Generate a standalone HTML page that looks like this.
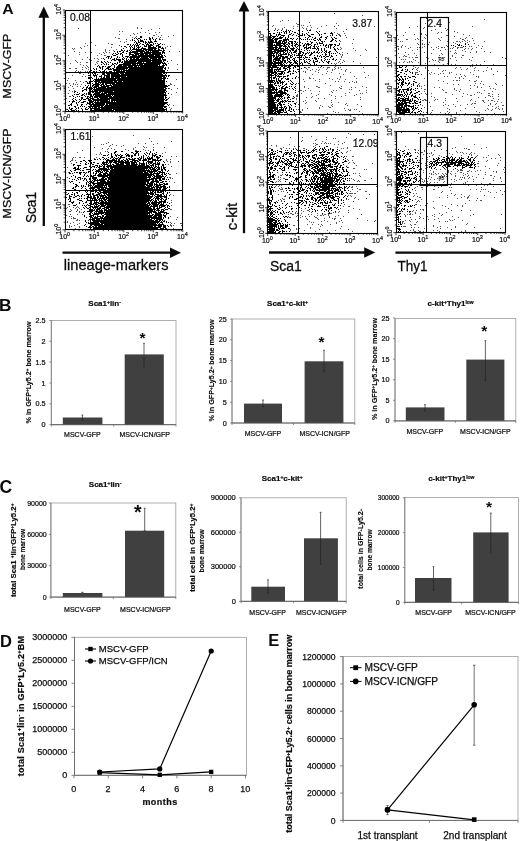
<!DOCTYPE html>
<html lang="en"><head><meta charset="utf-8"><title>Figure</title>
<style>
html,body{margin:0;padding:0;background:#fff}
svg{display:block}
text{font-family:"Liberation Sans",sans-serif}
</style></head>
<body>
<svg width="520" height="841" viewBox="0 0 520 841">
<rect x="0" y="0" width="520" height="841" fill="#fff"/>
<g id="panelA">
<text x="2.3" y="13.7" font-size="14.4" text-anchor="start" font-weight="bold" fill="#0a0a0a" textLength="11.4" lengthAdjust="spacingAndGlyphs">A</text>
<line x1="43.8" y1="16.7" x2="43.8" y2="226" stroke="#0a0a0a" stroke-width="2.3"/>
<polygon points="43.8,6.4 38.4,17.7 49.2,17.7" fill="#0a0a0a"/>
<text x="11" y="66.1" font-size="11.8" text-anchor="middle" font-weight="normal" fill="#0a0a0a" transform="rotate(-90 11 66.1)" textLength="64.6" lengthAdjust="spacingAndGlyphs" stroke="#111" stroke-width="0.3">MSCV-GFP</text>
<text x="11" y="173.4" font-size="11.8" text-anchor="middle" font-weight="normal" fill="#0a0a0a" transform="rotate(-90 11 173.4)" textLength="90" lengthAdjust="spacingAndGlyphs" stroke="#111" stroke-width="0.3">MSCV-ICN/GFP</text>
<text x="36.3" y="207.5" font-size="15.2" text-anchor="middle" font-weight="normal" fill="#0a0a0a" transform="rotate(-90 36.3 207.5)" textLength="31" lengthAdjust="spacingAndGlyphs" stroke="#111" stroke-width="0.3">Sca1</text>
<line x1="62.5" y1="252.7" x2="171" y2="252.7" stroke="#0a0a0a" stroke-width="2.3"/>
<polygon points="181,252.7 170,247.4 170,258" fill="#0a0a0a"/>
<text x="63.8" y="270" font-size="14.6" text-anchor="start" font-weight="normal" fill="#0a0a0a" stroke="#111" stroke-width="0.3">lineage-markers</text>
<path d="M65 24h1M137 27h1M78 28h1M137 28h1M141 28h1M159 28h1M151 29h1M148 30h1M119 31h1M122 31h1M140 32h1M145 32h1M155 32h1M159 32h1M133 33h1M137 33h1M149 33h1M119 34h1M134 34h1M156 34h1M130 35h1M153 35h2M161 35h1M173 35h1M136 36h1M158 36h1M168 36h1M115 37h1M132 37h1M135 37h1M160 37h1M90 38h1M118 38h2M159 38h1M126 39h1M160 39h1M162 39h1M130 40h1M120 41h1M126 41h1M91 42h1M124 42h1M85 43h1M108 43h1M111 44h2M164 44h1M87 45h1M95 45h1M119 45h1M84 46h1M167 46h1M170 46h1M80 47h1M111 47h1M165 47h1M72 48h1M74 48h1M81 48h1M165 48h1M73 49h1M105 49h1M116 49h1M105 50h1M109 50h1M113 50h1M74 51h1M105 51h1M169 51h1M179 51h1M79 52h1M85 52h1M91 52h1M103 52h1M106 52h1M109 52h1M99 53h1M104 53h1M79 54h1M101 54h1M68 55h1M97 55h1M104 55h2M87 57h1M94 58h1M97 58h1M101 58h1M82 59h1M89 59h2M98 59h1M75 60h1M91 60h1M171 60h1M76 61h1M97 61h2M77 62h1M80 62h1M86 62h2M96 62h1M65 63h1M70 63h1M97 63h1M168 63h1M80 64h1M95 64h1M177 64h1M83 65h1M86 65h1M87 66h1M82 67h1M85 67h1M88 67h1M168 67h1M69 68h2M75 68h2M86 68h1M168 68h1M82 69h1M88 69h1M177 69h1M76 70h1M75 71h1M78 71h1M80 71h1M85 71h1M87 71h1M86 72h1M168 72h1M79 73h2M83 74h1M72 75h1M169 75h1M82 76h1M85 76h1M68 78h1M176 79h1M67 80h1M75 80h1M80 81h1M85 81h1M76 82h1M83 82h1M66 83h1M69 83h1M73 83h1M170 83h1M73 84h1M75 84h1M77 84h1M81 84h1M170 84h2M182 84h1M70 85h1M169 85h1M174 85h1M72 86h1M77 86h1M80 86h1M68 87h1M73 88h1M169 88h1M177 88h1M171 89h1M69 90h1M74 90h1M72 91h1M74 91h1M176 92h1M68 93h1M171 94h1M69 96h2M169 97h1M66 98h1M169 104h1M173 105h1M169 107h1M171 108h1M66 109h1M170 109h1M170 110h1" transform="translate(0 0.5)" stroke="#555" stroke-width="1" fill="none" shape-rendering="crispEdges"/>
<path d="M140 36h2M140 37h2M149 37h1M152 37h1M134 38h1M136 38h1M138 38h2M149 38h2M152 38h1M156 38h1M132 39h1M137 39h1M140 39h1M144 39h1M146 39h1M149 39h2M153 39h1M155 39h1M159 39h1M132 40h1M134 40h1M138 40h1M140 40h3M150 40h1M155 40h1M135 41h1M138 41h1M140 41h4M145 41h1M148 41h1M150 41h2M154 41h3M134 42h1M136 42h1M138 42h2M143 42h1M145 42h2M148 42h5M136 43h2M140 43h1M145 43h1M147 43h1M149 43h1M153 43h1M155 43h1M157 43h1M160 43h1M127 44h2M130 44h1M133 44h1M135 44h1M137 44h1M139 44h1M142 44h2M146 44h3M150 44h2M153 44h1M158 44h2M162 44h1M130 45h1M132 45h1M134 45h1M136 45h3M144 45h1M146 45h1M148 45h5M156 45h3M121 46h1M124 46h2M129 46h1M131 46h1M134 46h1M136 46h1M138 46h1M140 46h1M144 46h3M148 46h3M153 46h1M156 46h1M158 46h3M126 47h1M130 47h1M132 47h1M134 47h1M137 47h3M142 47h1M148 47h8M158 47h3M162 47h1M123 48h1M130 48h1M133 48h2M136 48h1M138 48h1M141 48h5M148 48h9M158 48h1M161 48h3M121 49h1M130 49h1M132 49h10M143 49h10M154 49h2M158 49h2M163 49h1M121 50h2M124 50h1M127 50h1M129 50h1M131 50h1M136 50h8M145 50h2M148 50h14M163 50h2M114 51h1M117 51h1M119 51h2M123 51h1M126 51h2M130 51h1M132 51h13M146 51h3M150 51h1M152 51h7M162 51h2M117 52h1M122 52h2M129 52h9M140 52h3M144 52h17M162 52h3M113 53h1M115 53h1M118 53h1M120 53h2M126 53h1M129 53h2M134 53h17M152 53h9M162 53h1M164 53h1M112 54h1M116 54h2M120 54h1M122 54h1M129 54h5M135 54h4M140 54h4M145 54h3M149 54h13M113 55h3M122 55h1M129 55h1M132 55h5M138 55h16M155 55h5M161 55h2M164 55h1M107 56h3M111 56h1M117 56h1M122 56h1M125 56h4M130 56h33M165 56h1M106 57h1M108 57h1M111 57h1M117 57h1M119 57h1M123 57h1M127 57h1M129 57h11M141 57h7M149 57h15M103 58h1M108 58h1M110 58h1M114 58h1M116 58h1M122 58h1M124 58h1M126 58h1M130 58h2M133 58h2M136 58h3M140 58h9M150 58h7M158 58h3M162 58h1M104 59h1M112 59h3M116 59h5M122 59h2M126 59h1M128 59h1M130 59h21M152 59h9M162 59h4M111 60h1M114 60h2M118 60h3M124 60h1M126 60h2M129 60h33M163 60h3M101 61h1M104 61h1M107 61h1M119 61h2M122 61h1M124 61h13M138 61h13M152 61h10M163 61h1M167 61h1M101 62h2M105 62h1M108 62h1M110 62h1M117 62h1M119 62h1M121 62h2M124 62h12M137 62h5M143 62h1M146 62h17M164 62h1M103 63h1M106 63h1M112 63h1M114 63h2M117 63h1M123 63h38M162 63h4M101 64h1M104 64h1M106 64h1M108 64h1M112 64h2M116 64h1M119 64h12M132 64h4M137 64h1M139 64h4M144 64h16M163 64h1M165 64h2M98 65h1M111 65h1M114 65h1M118 65h4M123 65h35M159 65h1M162 65h3M166 65h1M97 66h1M99 66h1M102 66h2M105 66h1M108 66h3M114 66h1M117 66h10M128 66h5M134 66h3M138 66h1M140 66h24M99 67h2M102 67h1M107 67h3M114 67h1M116 67h48M165 67h1M93 68h1M96 68h1M100 68h1M102 68h1M106 68h3M110 68h1M112 68h2M116 68h12M129 68h34M164 68h2M94 69h1M96 69h1M102 69h1M105 69h1M108 69h4M113 69h12M126 69h1M128 69h35M165 69h1M91 70h1M99 70h1M104 70h1M113 70h7M121 70h1M123 70h42M167 70h1M89 71h1M93 71h2M96 71h1M100 71h1M102 71h3M106 71h1M109 71h3M114 71h1M116 71h9M126 71h39M89 72h1M94 72h1M98 72h1M102 72h1M107 72h1M109 72h57M88 73h1M92 73h1M94 73h2M102 73h3M106 73h13M120 73h4M125 73h37M163 73h2M166 73h1M90 74h1M93 74h1M95 74h1M97 74h1M102 74h3M107 74h3M111 74h9M121 74h42M165 74h1M88 75h2M93 75h4M101 75h1M104 75h6M111 75h56M168 75h1M94 76h1M96 76h1M99 76h3M104 76h1M106 76h4M111 76h15M127 76h38M166 76h1M168 76h1M88 77h2M91 77h1M96 77h1M101 77h1M103 77h2M106 77h4M111 77h3M115 77h5M121 77h41M163 77h3M88 78h2M92 78h1M96 78h1M98 78h1M100 78h66M167 78h1M90 79h1M94 79h22M117 79h45M163 79h2M93 80h1M95 80h70M86 81h1M89 81h1M91 81h2M94 81h6M101 81h12M114 81h3M118 81h4M123 81h42M166 81h1M87 82h1M89 82h2M95 82h2M98 82h67M87 83h4M92 83h1M95 83h4M100 83h1M102 83h2M105 83h10M116 83h49M93 84h7M101 84h3M105 84h2M110 84h1M112 84h53M85 85h1M88 85h1M90 85h1M92 85h2M95 85h4M100 85h2M103 85h2M106 85h6M113 85h54M168 85h1M87 86h1M92 86h1M94 86h5M101 86h8M111 86h57M83 87h1M86 87h2M89 87h3M93 87h4M98 87h8M107 87h59M82 88h1M86 88h1M88 88h2M91 88h2M94 88h1M96 88h68M165 88h2M168 88h1M84 89h3M89 89h1M91 89h1M93 89h73M82 90h2M86 90h1M89 90h2M92 90h1M94 90h72M75 91h1M82 91h1M89 91h1M91 91h7M99 91h14M114 91h51M166 91h1M74 92h1M77 92h1M88 92h2M92 92h2M95 92h6M102 92h1M104 92h62M79 93h1M84 93h1M86 93h1M88 93h3M94 93h6M101 93h6M108 93h56M165 93h1M168 93h1M74 94h1M76 94h3M82 94h2M86 94h1M88 94h2M91 94h1M93 94h12M106 94h60M72 95h1M81 95h2M84 95h1M90 95h2M93 95h1M95 95h16M112 95h1M114 95h53M73 96h1M77 96h1M79 96h1M85 96h1M87 96h2M90 96h3M94 96h18M113 96h51M165 96h1M75 97h1M81 97h2M87 97h1M89 97h2M92 97h1M94 97h4M99 97h9M109 97h55M165 97h2M73 98h1M81 98h2M86 98h3M91 98h3M97 98h2M100 98h64M165 98h1M168 98h1M72 99h1M75 99h1M79 99h1M81 99h1M83 99h3M88 99h3M92 99h18M111 99h54M166 99h2M73 100h1M76 100h1M80 100h1M88 100h2M91 100h1M93 100h15M109 100h1M111 100h53M165 100h2M69 101h1M72 101h3M79 101h1M83 101h3M89 101h5M95 101h1M97 101h2M100 101h10M111 101h2M114 101h1M116 101h48M72 102h1M76 102h1M78 102h1M81 102h3M87 102h1M89 102h4M94 102h74M71 103h1M76 103h1M87 103h4M92 103h2M95 103h10M106 103h61M70 104h2M77 104h1M81 104h2M86 104h1M89 104h16M106 104h2M109 104h56M167 104h1M68 105h2M71 105h1M77 105h1M81 105h1M90 105h2M93 105h11M105 105h59M168 105h1M74 106h2M80 106h1M82 106h1M84 106h1M88 106h12M101 106h2M104 106h63M69 107h1M75 107h1M78 107h1M86 107h1M89 107h1M92 107h1M94 107h3M98 107h65M164 107h2M69 108h1M71 108h2M76 108h1M78 108h1M81 108h1M85 108h1M88 108h1M90 108h10M101 108h63M166 108h1M67 109h1M70 109h2M75 109h1M82 109h1M85 109h3M90 109h2M94 109h18M113 109h54M68 110h1M71 110h4M76 110h1M78 110h1M82 110h1M91 110h23M115 110h50M166 110h1M71 111h3M77 111h1M81 111h2M84 111h1M86 111h1M88 111h1M90 111h1M93 111h71M165 111h1M167 111h1" transform="translate(0 0.5)" stroke="#000" stroke-width="1" fill="none" shape-rendering="crispEdges"/>
<rect x="65.5" y="10.5" width="117" height="101" fill="none" stroke="#000" stroke-width="1.1"/>
<line x1="90.5" y1="10" x2="90.5" y2="111.4" stroke="#000" stroke-width="1"/>
<line x1="65" y1="72.5" x2="182.7" y2="72.5" stroke="#000" stroke-width="1"/>
<path d="M65.0 111.4v2.6M65.0 111.4h-2.6M73.9 111.4v1.4M65.0 103.8h-1.4M79.0 111.4v1.4M65.0 99.3h-1.4M82.7 111.4v1.4M65.0 96.1h-1.4M85.6 111.4v1.4M65.0 93.7h-1.4M87.9 111.4v1.4M65.0 91.7h-1.4M89.9 111.4v1.4M65.0 90.0h-1.4M91.6 111.4v1.4M65.0 88.5h-1.4M93.1 111.4v1.4M65.0 87.2h-1.4M94.4 111.4v2.6M65.0 86.1h-2.6M103.3 111.4v1.4M65.0 78.4h-1.4M108.5 111.4v1.4M65.0 74.0h-1.4M112.1 111.4v1.4M65.0 70.8h-1.4M115.0 111.4v1.4M65.0 68.3h-1.4M117.3 111.4v1.4M65.0 66.3h-1.4M119.3 111.4v1.4M65.0 64.6h-1.4M121.0 111.4v1.4M65.0 63.2h-1.4M122.5 111.4v1.4M65.0 61.9h-1.4M123.8 111.4v2.6M65.0 60.7h-2.6M132.7 111.4v1.4M65.0 53.1h-1.4M137.9 111.4v1.4M65.0 48.6h-1.4M141.6 111.4v1.4M65.0 45.4h-1.4M144.4 111.4v1.4M65.0 43.0h-1.4M146.7 111.4v1.4M65.0 41.0h-1.4M148.7 111.4v1.4M65.0 39.3h-1.4M150.4 111.4v1.4M65.0 37.8h-1.4M151.9 111.4v1.4M65.0 36.5h-1.4M153.3 111.4v2.6M65.0 35.3h-2.6M162.1 111.4v1.4M65.0 27.7h-1.4M167.3 111.4v1.4M65.0 23.3h-1.4M171.0 111.4v1.4M65.0 20.1h-1.4M173.8 111.4v1.4M65.0 17.6h-1.4M176.2 111.4v1.4M65.0 15.6h-1.4M178.1 111.4v1.4M65.0 13.9h-1.4M179.8 111.4v1.4M65.0 12.5h-1.4M181.4 111.4v1.4M65.0 11.2h-1.4M182.7 111.4v2.2M65.0 10.0h-2.2" stroke="#000" stroke-width="0.75" fill="none"/>
<text x="64.7" y="120.6" font-size="7" text-anchor="middle" font-weight="normal" fill="#0a0a0a" stroke="#111" stroke-width="0.2">10<tspan dy="-0.5em" font-size="78%">0</tspan><tspan dy="0.39em" font-size="100%">&#8203;</tspan></text>
<text x="60.7" y="110.7" font-size="7" text-anchor="middle" font-weight="normal" fill="#0a0a0a" transform="rotate(-90 60.7 110.7)" stroke="#111" stroke-width="0.2">10<tspan dy="-0.5em" font-size="78%">0</tspan><tspan dy="0.39em" font-size="100%">&#8203;</tspan></text>
<text x="94.125" y="120.6" font-size="7" text-anchor="middle" font-weight="normal" fill="#0a0a0a" stroke="#111" stroke-width="0.2">10<tspan dy="-0.5em" font-size="78%">1</tspan><tspan dy="0.39em" font-size="100%">&#8203;</tspan></text>
<text x="60.7" y="85.35" font-size="7" text-anchor="middle" font-weight="normal" fill="#0a0a0a" transform="rotate(-90 60.7 85.35)" stroke="#111" stroke-width="0.2">10<tspan dy="-0.5em" font-size="78%">1</tspan><tspan dy="0.39em" font-size="100%">&#8203;</tspan></text>
<text x="123.55" y="120.6" font-size="7" text-anchor="middle" font-weight="normal" fill="#0a0a0a" stroke="#111" stroke-width="0.2">10<tspan dy="-0.5em" font-size="78%">2</tspan><tspan dy="0.39em" font-size="100%">&#8203;</tspan></text>
<text x="60.7" y="60" font-size="7" text-anchor="middle" font-weight="normal" fill="#0a0a0a" transform="rotate(-90 60.7 60)" stroke="#111" stroke-width="0.2">10<tspan dy="-0.5em" font-size="78%">2</tspan><tspan dy="0.39em" font-size="100%">&#8203;</tspan></text>
<text x="152.975" y="120.6" font-size="7" text-anchor="middle" font-weight="normal" fill="#0a0a0a" stroke="#111" stroke-width="0.2">10<tspan dy="-0.5em" font-size="78%">3</tspan><tspan dy="0.39em" font-size="100%">&#8203;</tspan></text>
<text x="60.7" y="34.65" font-size="7" text-anchor="middle" font-weight="normal" fill="#0a0a0a" transform="rotate(-90 60.7 34.65)" stroke="#111" stroke-width="0.2">10<tspan dy="-0.5em" font-size="78%">3</tspan><tspan dy="0.39em" font-size="100%">&#8203;</tspan></text>
<text x="182.4" y="120.6" font-size="7" text-anchor="middle" font-weight="normal" fill="#0a0a0a" stroke="#111" stroke-width="0.2">10<tspan dy="-0.5em" font-size="78%">4</tspan><tspan dy="0.39em" font-size="100%">&#8203;</tspan></text>
<text x="60.7" y="9.3" font-size="7" text-anchor="middle" font-weight="normal" fill="#0a0a0a" transform="rotate(-90 60.7 9.3)" stroke="#111" stroke-width="0.2">10<tspan dy="-0.5em" font-size="78%">4</tspan><tspan dy="0.39em" font-size="100%">&#8203;</tspan></text>
<text x="70" y="21" font-size="10.3" text-anchor="start" font-weight="normal" fill="#0a0a0a" stroke="#111" stroke-width="0.2">0.08</text>
<path d="M79 129h1M77 133h1M133 135h1M92 136h1M149 138h1M151 141h1M171 141h1M108 142h1M106 143h1M138 143h1M145 143h1M157 143h1M101 144h1M103 144h1M112 144h1M153 144h1M110 145h1M116 145h1M123 145h1M109 146h1M121 146h1M143 146h1M94 147h1M135 147h1M144 147h1M146 147h1M153 147h1M164 147h1M102 148h1M108 148h1M111 148h1M133 148h1M107 149h1M114 149h1M125 149h1M133 149h1M143 149h1M153 149h1M82 150h1M128 150h1M135 150h2M145 150h1M148 150h1M153 150h1M105 151h1M107 151h1M77 152h1M100 152h1M165 152h1M100 153h1M162 153h1M96 154h1M99 154h1M101 154h1M171 156h1M176 156h1M73 157h1M75 157h1M79 157h2M84 157h1M96 157h1M72 158h1M94 158h1M72 159h1M166 159h1M170 159h1M71 160h2M75 160h1M166 160h1M70 161h1M167 161h1M170 161h1M178 161h1M170 162h1M71 163h1M168 164h1M65 166h1M171 166h1M67 167h1M68 172h1M176 173h1M169 174h2M67 177h1M169 177h2M65 178h1M170 178h1M172 178h1M169 181h1M65 182h1M174 182h1M65 185h1M67 190h1M182 190h1M66 192h1M66 194h1M170 194h1M173 195h1M65 196h1M65 198h1M171 200h1M171 202h1M182 203h1M68 204h2M65 205h1M171 205h1M69 206h1M77 206h1M67 207h1M73 207h1M76 207h1M78 207h1M66 208h1M75 208h1M79 208h1M65 209h1M70 209h1M77 209h1M81 209h1M170 209h2M71 210h1M77 210h1M69 211h2M76 211h1M79 211h1M79 212h1M81 212h1M70 214h1M77 214h1M82 214h1M65 215h2M69 216h1M71 216h1M170 216h1M73 217h1M177 217h1M71 218h1M73 218h3M77 219h1M176 219h1M76 220h2M79 220h1M67 221h1M67 222h1M73 222h1M170 222h1M70 223h1M79 223h1M171 223h1M174 223h1M180 223h2M77 224h1M170 224h1M69 225h1M74 225h1M170 225h2M173 225h1M181 225h1M69 226h1M71 226h1M79 226h1M171 226h1M69 227h1M79 227h1M75 228h1M173 228h1M70 229h1" transform="translate(0 0.5)" stroke="#555" stroke-width="1" fill="none" shape-rendering="crispEdges"/>
<path d="M115 151h2M121 151h2M135 151h4M140 151h1M150 151h1M108 152h1M114 152h2M131 152h2M136 152h2M146 152h1M150 152h1M156 152h1M111 153h1M114 153h1M126 153h1M133 153h1M135 153h2M138 153h1M144 153h1M147 153h1M149 153h1M152 153h1M154 153h1M108 154h1M111 154h1M115 154h1M117 154h1M120 154h1M125 154h1M127 154h2M134 154h2M138 154h1M145 154h1M149 154h1M152 154h1M155 154h2M103 155h3M107 155h1M111 155h1M115 155h2M118 155h2M121 155h2M126 155h4M131 155h2M134 155h2M138 155h1M143 155h1M146 155h1M152 155h4M159 155h2M111 156h2M116 156h1M120 156h2M126 156h1M128 156h2M131 156h2M141 156h1M143 156h1M148 156h1M152 156h1M154 156h1M156 156h2M160 156h1M162 156h1M102 157h2M108 157h1M111 157h2M114 157h1M118 157h1M120 157h5M131 157h1M139 157h1M141 157h1M143 157h1M147 157h1M149 157h1M151 157h2M156 157h4M99 158h1M104 158h1M106 158h1M110 158h1M113 158h1M115 158h3M119 158h2M126 158h1M128 158h2M132 158h1M134 158h2M137 158h2M140 158h2M143 158h1M145 158h1M147 158h6M157 158h2M90 159h1M94 159h2M97 159h1M100 159h1M103 159h1M105 159h1M107 159h2M112 159h3M116 159h1M118 159h2M123 159h1M126 159h2M129 159h6M138 159h3M143 159h4M148 159h3M152 159h4M157 159h1M160 159h2M83 160h2M88 160h2M91 160h1M106 160h11M118 160h2M121 160h2M124 160h2M127 160h2M132 160h6M139 160h2M142 160h5M148 160h1M152 160h9M80 161h2M85 161h1M89 161h1M103 161h1M106 161h2M109 161h4M114 161h10M125 161h4M130 161h3M134 161h2M137 161h2M143 161h1M147 161h6M155 161h1M158 161h1M163 161h1M76 162h1M86 162h1M91 162h1M93 162h2M102 162h6M109 162h3M113 162h4M118 162h12M131 162h6M139 162h1M143 162h1M146 162h1M148 162h5M155 162h1M157 162h1M159 162h1M164 162h1M80 163h1M85 163h1M88 163h1M91 163h1M97 163h2M102 163h3M106 163h1M108 163h1M110 163h1M115 163h4M120 163h4M125 163h5M131 163h4M136 163h1M139 163h6M146 163h1M148 163h1M150 163h2M153 163h3M157 163h3M73 164h2M85 164h2M90 164h1M92 164h2M101 164h1M103 164h5M110 164h1M112 164h2M116 164h8M126 164h4M131 164h7M139 164h1M141 164h4M146 164h1M149 164h1M152 164h2M155 164h5M162 164h2M165 164h1M73 165h1M77 165h4M90 165h1M95 165h3M99 165h1M102 165h1M104 165h1M107 165h5M113 165h24M138 165h7M146 165h3M150 165h4M155 165h1M158 165h1M162 165h2M78 166h1M89 166h2M92 166h3M97 166h1M99 166h3M103 166h2M106 166h44M151 166h1M153 166h1M155 166h2M158 166h1M161 166h1M163 166h1M74 167h2M78 167h1M84 167h3M91 167h1M94 167h1M96 167h1M98 167h2M103 167h2M107 167h2M110 167h43M154 167h2M157 167h3M161 167h1M163 167h3M73 168h3M77 168h2M80 168h1M83 168h1M99 168h8M108 168h1M110 168h3M114 168h34M149 168h2M152 168h3M156 168h1M158 168h2M161 168h1M163 168h2M75 169h5M86 169h4M93 169h1M95 169h1M98 169h12M111 169h34M146 169h1M148 169h1M150 169h6M157 169h3M161 169h2M164 169h2M70 170h1M74 170h2M80 170h1M82 170h2M92 170h1M96 170h4M101 170h1M103 170h5M110 170h40M151 170h1M153 170h5M161 170h2M165 170h1M168 170h1M71 171h1M88 171h3M95 171h6M102 171h1M104 171h1M106 171h3M110 171h36M147 171h10M158 171h3M162 171h1M167 171h1M69 172h1M74 172h1M76 172h2M79 172h3M83 172h2M86 172h1M88 172h1M93 172h1M96 172h1M98 172h1M100 172h3M105 172h2M109 172h34M144 172h4M149 172h4M154 172h1M157 172h1M159 172h6M69 173h2M72 173h1M79 173h2M85 173h1M93 173h1M95 173h2M99 173h2M103 173h5M109 173h40M150 173h2M153 173h7M162 173h1M164 173h1M166 173h1M168 173h1M80 174h1M84 174h1M95 174h1M98 174h4M103 174h3M107 174h47M156 174h3M161 174h2M164 174h2M73 175h1M84 175h1M87 175h1M90 175h2M93 175h3M97 175h55M153 175h2M156 175h5M162 175h1M166 175h1M71 176h1M75 176h1M83 176h1M86 176h1M88 176h1M91 176h3M98 176h10M109 176h38M148 176h3M152 176h1M154 176h10M165 176h1M75 177h1M78 177h3M90 177h1M92 177h5M102 177h3M107 177h44M153 177h2M156 177h6M164 177h1M167 177h1M69 178h1M77 178h1M80 178h1M82 178h1M84 178h2M89 178h2M92 178h5M101 178h3M105 178h2M108 178h39M149 178h1M151 178h10M162 178h3M72 179h1M74 179h1M78 179h1M80 179h1M84 179h1M86 179h1M89 179h1M93 179h3M97 179h1M99 179h8M108 179h46M155 179h2M159 179h2M162 179h3M166 179h1M168 179h1M76 180h1M83 180h1M86 180h1M90 180h1M92 180h1M94 180h11M107 180h2M110 180h40M152 180h2M155 180h3M159 180h3M69 181h1M71 181h2M87 181h1M89 181h1M91 181h1M93 181h2M97 181h1M100 181h6M107 181h42M151 181h8M162 181h2M165 181h2M70 182h1M79 182h1M86 182h1M88 182h1M91 182h3M97 182h49M147 182h2M150 182h4M156 182h3M160 182h3M73 183h1M86 183h1M89 183h2M92 183h54M147 183h6M154 183h1M156 183h1M159 183h1M163 183h2M166 183h2M75 184h2M86 184h1M88 184h1M93 184h2M97 184h7M105 184h43M149 184h4M154 184h4M159 184h4M164 184h4M76 185h2M81 185h1M83 185h1M88 185h2M91 185h1M93 185h1M95 185h12M108 185h37M146 185h7M154 185h1M156 185h5M163 185h2M75 186h2M78 186h1M81 186h1M83 186h1M85 186h1M88 186h1M92 186h1M94 186h9M104 186h1M106 186h1M108 186h38M147 186h5M153 186h1M155 186h4M160 186h6M169 186h1M73 187h1M75 187h1M82 187h1M90 187h17M109 187h41M151 187h4M156 187h6M163 187h3M167 187h1M169 187h1M72 188h2M81 188h1M85 188h1M89 188h6M97 188h3M101 188h3M105 188h48M154 188h1M156 188h2M159 188h2M163 188h4M74 189h2M86 189h1M92 189h2M95 189h2M98 189h8M107 189h54M162 189h4M169 189h1M72 190h2M77 190h1M82 190h1M84 190h1M86 190h2M89 190h10M100 190h1M103 190h2M107 190h41M150 190h2M155 190h11M79 191h1M85 191h1M87 191h1M90 191h4M95 191h2M99 191h2M103 191h45M150 191h1M152 191h2M155 191h1M157 191h2M160 191h4M165 191h1M72 192h1M76 192h2M86 192h1M95 192h1M97 192h2M100 192h49M150 192h3M154 192h2M157 192h5M163 192h1M167 192h1M169 192h1M68 193h1M74 193h1M77 193h1M87 193h1M90 193h1M92 193h2M98 193h3M103 193h4M108 193h46M155 193h1M162 193h2M167 193h1M67 194h1M71 194h2M74 194h1M82 194h1M86 194h5M92 194h2M96 194h4M101 194h1M104 194h1M106 194h41M148 194h1M150 194h4M155 194h4M160 194h2M163 194h1M166 194h1M69 195h1M74 195h1M77 195h2M81 195h1M84 195h1M88 195h1M93 195h5M99 195h7M107 195h43M152 195h1M154 195h1M157 195h5M164 195h1M166 195h1M169 195h1M69 196h3M75 196h2M79 196h1M81 196h1M87 196h2M91 196h1M93 196h2M97 196h2M100 196h4M105 196h2M108 196h45M155 196h12M66 197h1M69 197h1M73 197h2M87 197h5M93 197h3M97 197h2M100 197h1M102 197h50M154 197h1M156 197h3M160 197h2M164 197h3M69 198h2M79 198h1M81 198h1M84 198h1M86 198h2M90 198h6M97 198h1M99 198h6M106 198h45M153 198h1M155 198h5M161 198h2M166 198h1M168 198h1M68 199h1M70 199h1M77 199h2M87 199h1M90 199h1M92 199h1M94 199h3M98 199h2M101 199h1M103 199h4M108 199h42M151 199h2M155 199h1M157 199h2M160 199h2M163 199h1M165 199h2M70 200h1M79 200h3M87 200h11M99 200h4M104 200h2M107 200h45M153 200h1M155 200h2M158 200h1M161 200h1M164 200h2M69 201h2M73 201h1M82 201h1M86 201h1M91 201h1M94 201h1M96 201h1M99 201h1M101 201h3M105 201h2M108 201h41M150 201h1M152 201h1M154 201h3M159 201h7M71 202h3M79 202h1M85 202h2M90 202h2M94 202h5M100 202h47M148 202h2M151 202h11M163 202h3M167 202h1M72 203h1M79 203h1M83 203h1M89 203h3M93 203h4M98 203h48M147 203h3M151 203h6M158 203h2M161 203h1M163 203h1M169 203h1M76 204h1M87 204h1M90 204h4M95 204h3M100 204h4M105 204h43M149 204h2M152 204h7M160 204h4M166 204h1M73 205h3M82 205h1M84 205h1M86 205h1M88 205h3M94 205h1M96 205h1M98 205h2M101 205h5M107 205h43M151 205h1M153 205h5M159 205h7M167 205h2M85 206h1M91 206h2M94 206h5M100 206h5M106 206h43M150 206h8M159 206h1M161 206h4M167 206h1M169 206h1M83 207h1M86 207h1M89 207h2M92 207h6M99 207h2M104 207h47M153 207h2M157 207h1M159 207h3M165 207h1M167 207h1M84 208h1M87 208h2M93 208h1M95 208h1M97 208h4M102 208h3M106 208h3M110 208h42M153 208h2M156 208h4M164 208h1M168 208h2M89 209h4M94 209h1M96 209h4M101 209h1M104 209h3M108 209h48M157 209h2M161 209h3M165 209h3M89 210h1M91 210h4M96 210h2M99 210h4M104 210h49M154 210h1M156 210h4M161 210h1M163 210h2M84 211h1M87 211h6M95 211h8M104 211h1M106 211h42M149 211h7M158 211h1M160 211h4M83 212h1M91 212h1M94 212h1M96 212h1M98 212h54M153 212h4M158 212h9M89 213h2M92 213h1M94 213h10M105 213h45M151 213h1M155 213h6M164 213h1M166 213h3M89 214h1M93 214h6M101 214h1M104 214h44M149 214h1M152 214h2M155 214h7M163 214h1M166 214h1M84 215h1M91 215h3M97 215h1M102 215h2M106 215h47M154 215h8M163 215h3M84 216h1M89 216h3M93 216h1M95 216h1M97 216h4M102 216h2M105 216h47M153 216h4M158 216h4M164 216h2M86 217h1M91 217h2M94 217h4M100 217h3M104 217h58M163 217h1M165 217h1M168 217h1M92 218h58M151 218h11M163 218h1M168 218h1M89 219h6M96 219h4M101 219h1M103 219h49M154 219h1M156 219h7M85 220h1M88 220h1M92 220h62M155 220h3M159 220h2M162 220h1M164 220h1M85 221h1M93 221h67M161 221h1M163 221h2M166 221h1M86 222h1M88 222h1M90 222h9M100 222h59M160 222h3M166 222h1M168 222h1M88 223h2M91 223h9M101 223h55M157 223h1M159 223h1M162 223h1M85 224h1M91 224h12M104 224h53M158 224h6M84 225h1M90 225h2M94 225h68M163 225h3M167 225h1M86 226h1M89 226h1M92 226h2M95 226h2M98 226h55M154 226h2M158 226h4M163 226h3M168 226h1M88 227h2M91 227h1M93 227h68M163 227h3M90 228h1M93 228h65M160 228h4M165 228h2M84 229h1M88 229h3M93 229h2M96 229h1M98 229h1M100 229h4M105 229h60M168 229h1" transform="translate(0 0.5)" stroke="#000" stroke-width="1" fill="none" shape-rendering="crispEdges"/>
<rect x="65.5" y="129.5" width="117" height="100" fill="none" stroke="#000" stroke-width="1.1"/>
<line x1="90.5" y1="129.2" x2="90.5" y2="229.8" stroke="#000" stroke-width="1"/>
<line x1="65" y1="190.5" x2="182.7" y2="190.5" stroke="#000" stroke-width="1"/>
<path d="M65.0 229.8v2.6M65.0 229.8h-2.6M73.9 229.8v1.4M65.0 222.2h-1.4M79.0 229.8v1.4M65.0 217.8h-1.4M82.7 229.8v1.4M65.0 214.7h-1.4M85.6 229.8v1.4M65.0 212.2h-1.4M87.9 229.8v1.4M65.0 210.2h-1.4M89.9 229.8v1.4M65.0 208.5h-1.4M91.6 229.8v1.4M65.0 207.1h-1.4M93.1 229.8v1.4M65.0 205.8h-1.4M94.4 229.8v2.6M65.0 204.7h-2.6M103.3 229.8v1.4M65.0 197.1h-1.4M108.5 229.8v1.4M65.0 192.7h-1.4M112.1 229.8v1.4M65.0 189.5h-1.4M115.0 229.8v1.4M65.0 187.1h-1.4M117.3 229.8v1.4M65.0 185.1h-1.4M119.3 229.8v1.4M65.0 183.4h-1.4M121.0 229.8v1.4M65.0 181.9h-1.4M122.5 229.8v1.4M65.0 180.7h-1.4M123.8 229.8v2.6M65.0 179.5h-2.6M132.7 229.8v1.4M65.0 171.9h-1.4M137.9 229.8v1.4M65.0 167.5h-1.4M141.6 229.8v1.4M65.0 164.4h-1.4M144.4 229.8v1.4M65.0 161.9h-1.4M146.7 229.8v1.4M65.0 159.9h-1.4M148.7 229.8v1.4M65.0 158.2h-1.4M150.4 229.8v1.4M65.0 156.8h-1.4M151.9 229.8v1.4M65.0 155.5h-1.4M153.3 229.8v2.6M65.0 154.3h-2.6M162.1 229.8v1.4M65.0 146.8h-1.4M167.3 229.8v1.4M65.0 142.4h-1.4M171.0 229.8v1.4M65.0 139.2h-1.4M173.8 229.8v1.4M65.0 136.8h-1.4M176.2 229.8v1.4M65.0 134.8h-1.4M178.1 229.8v1.4M65.0 133.1h-1.4M179.8 229.8v1.4M65.0 131.6h-1.4M181.4 229.8v1.4M65.0 130.4h-1.4M182.7 229.8v2.2M65.0 129.2h-2.2" stroke="#000" stroke-width="0.75" fill="none"/>
<text x="64.7" y="239" font-size="7" text-anchor="middle" font-weight="normal" fill="#0a0a0a" stroke="#111" stroke-width="0.2">10<tspan dy="-0.5em" font-size="78%">0</tspan><tspan dy="0.39em" font-size="100%">&#8203;</tspan></text>
<text x="60.7" y="229.1" font-size="7" text-anchor="middle" font-weight="normal" fill="#0a0a0a" transform="rotate(-90 60.7 229.1)" stroke="#111" stroke-width="0.2">10<tspan dy="-0.5em" font-size="78%">0</tspan><tspan dy="0.39em" font-size="100%">&#8203;</tspan></text>
<text x="94.125" y="239" font-size="7" text-anchor="middle" font-weight="normal" fill="#0a0a0a" stroke="#111" stroke-width="0.2">10<tspan dy="-0.5em" font-size="78%">1</tspan><tspan dy="0.39em" font-size="100%">&#8203;</tspan></text>
<text x="60.7" y="203.95" font-size="7" text-anchor="middle" font-weight="normal" fill="#0a0a0a" transform="rotate(-90 60.7 203.95)" stroke="#111" stroke-width="0.2">10<tspan dy="-0.5em" font-size="78%">1</tspan><tspan dy="0.39em" font-size="100%">&#8203;</tspan></text>
<text x="123.55" y="239" font-size="7" text-anchor="middle" font-weight="normal" fill="#0a0a0a" stroke="#111" stroke-width="0.2">10<tspan dy="-0.5em" font-size="78%">2</tspan><tspan dy="0.39em" font-size="100%">&#8203;</tspan></text>
<text x="60.7" y="178.8" font-size="7" text-anchor="middle" font-weight="normal" fill="#0a0a0a" transform="rotate(-90 60.7 178.8)" stroke="#111" stroke-width="0.2">10<tspan dy="-0.5em" font-size="78%">2</tspan><tspan dy="0.39em" font-size="100%">&#8203;</tspan></text>
<text x="152.975" y="239" font-size="7" text-anchor="middle" font-weight="normal" fill="#0a0a0a" stroke="#111" stroke-width="0.2">10<tspan dy="-0.5em" font-size="78%">3</tspan><tspan dy="0.39em" font-size="100%">&#8203;</tspan></text>
<text x="60.7" y="153.65" font-size="7" text-anchor="middle" font-weight="normal" fill="#0a0a0a" transform="rotate(-90 60.7 153.65)" stroke="#111" stroke-width="0.2">10<tspan dy="-0.5em" font-size="78%">3</tspan><tspan dy="0.39em" font-size="100%">&#8203;</tspan></text>
<text x="182.4" y="239" font-size="7" text-anchor="middle" font-weight="normal" fill="#0a0a0a" stroke="#111" stroke-width="0.2">10<tspan dy="-0.5em" font-size="78%">4</tspan><tspan dy="0.39em" font-size="100%">&#8203;</tspan></text>
<text x="60.7" y="128.5" font-size="7" text-anchor="middle" font-weight="normal" fill="#0a0a0a" transform="rotate(-90 60.7 128.5)" stroke="#111" stroke-width="0.2">10<tspan dy="-0.5em" font-size="78%">4</tspan><tspan dy="0.39em" font-size="100%">&#8203;</tspan></text>
<text x="70.5" y="139.5" font-size="10.3" text-anchor="start" font-weight="normal" fill="#0a0a0a" stroke="#111" stroke-width="0.2">1.61</text>
<line x1="244" y1="10.5" x2="244" y2="233.2" stroke="#0a0a0a" stroke-width="2.3"/>
<polygon points="244,1 238.6,11.5 249.4,11.5" fill="#0a0a0a"/>
<text x="237" y="216.5" font-size="15" text-anchor="middle" font-weight="normal" fill="#0a0a0a" transform="rotate(-90 237 216.5)" stroke="#111" stroke-width="0.3">c-kit</text>
<line x1="269" y1="252.5" x2="365.2" y2="252.5" stroke="#0a0a0a" stroke-width="2.3"/>
<polygon points="375.2,252.5 364.2,247.2 364.2,257.8" fill="#0a0a0a"/>
<text x="270" y="270.8" font-size="15.2" text-anchor="start" font-weight="normal" fill="#0a0a0a" textLength="31.6" lengthAdjust="spacingAndGlyphs" stroke="#111" stroke-width="0.3">Sca1</text>
<line x1="395.4" y1="252.7" x2="492" y2="252.7" stroke="#0a0a0a" stroke-width="2.3"/>
<polygon points="502,252.7 491,247.4 491,258" fill="#0a0a0a"/>
<text x="397.6" y="270.8" font-size="15.2" text-anchor="start" font-weight="normal" fill="#0a0a0a" textLength="30" lengthAdjust="spacingAndGlyphs" stroke="#111" stroke-width="0.3">Thy1</text>
<path d="M304 11h1M334 13h1M362 15h1M282 20h1M288 20h1M280 21h1M370 21h1M309 22h1M296 23h1M336 23h1M297 24h2M273 25h1M301 25h1M303 25h1M310 25h1M326 25h1M338 25h1M272 26h1M293 26h1M297 26h1M307 26h1M321 26h1M334 26h1M374 26h1M284 27h1M302 27h1M311 27h1M275 28h1M282 28h1M293 28h1M303 28h1M306 28h1M317 28h1M336 28h1M275 29h1M278 29h1M282 29h1M286 29h1M306 29h1M310 29h1M346 29h1M343 31h1M334 32h1M337 33h1M344 33h1M338 34h2M339 35h2M345 35h1M340 36h1M346 37h1M353 39h1M340 41h1M352 43h1M340 47h1M341 48h1M353 48h1M340 49h1M365 49h1M355 50h1M366 50h1M342 52h1M347 53h1M340 54h1M342 54h1M342 55h1M360 55h1M341 56h1M341 57h1M376 57h1M340 59h1M343 60h1M339 61h1M344 61h1M353 61h1M338 62h1M342 62h1M334 63h1M336 63h1M340 63h1M360 63h1M335 64h1M330 65h1M335 66h1M305 67h1M308 67h2M318 67h1M320 67h1M323 67h1M327 67h3M334 67h1M338 67h1M340 67h1M363 67h1M306 68h1M327 68h1M335 68h1M338 68h1M307 69h1M312 69h1M316 69h1M319 69h1M326 69h1M332 69h1M334 69h1M341 69h1M346 69h1M310 70h1M318 70h1M332 70h1M345 70h1M299 71h1M303 71h1M305 71h1M315 71h1M327 71h1M345 71h1M305 72h1M318 72h1M331 72h1M350 72h1M364 72h1M326 73h1M339 73h1M312 74h1M322 74h1M343 74h1M368 75h1M340 76h1M354 76h1M298 77h1M309 77h1M340 77h1M365 77h1M309 78h2M313 78h1M329 78h1M337 78h1M356 78h1M303 79h1M319 79h1M332 79h1M339 79h1M345 79h1M315 80h1M304 81h1M319 81h1M335 81h1M338 81h1M344 81h1M352 81h1M356 81h1M349 82h1M354 82h1M356 82h1M296 83h1M298 83h1M325 83h1M330 85h1M304 86h1M316 86h2M341 86h1M362 86h1M304 87h1M318 87h2M339 87h1M351 87h1M355 87h1M366 87h1M308 88h1M340 88h2M349 89h1M351 89h1M300 90h2M305 90h1M310 90h1M333 90h1M336 90h1M359 90h1M366 90h1M298 91h1M303 91h1M319 91h1M331 91h1M332 92h1M349 92h1M366 92h1M301 93h1M311 93h1M345 93h1M360 93h1M362 93h1M297 94h1M318 94h1M329 94h1M356 94h1M296 95h2M316 95h1M331 95h1M345 95h1M354 95h1M296 96h2M312 96h1M335 96h1M341 96h1M306 97h1M311 97h1M360 97h1M296 98h1M318 98h1M324 98h1M335 98h1M296 99h1M360 99h1M305 100h1M315 100h1M331 100h1M303 101h1M316 101h1M296 102h1M306 102h1M331 102h1M338 102h1M305 103h1M346 103h1M298 104h2M332 104h1M345 104h1M357 104h1M299 105h1M320 105h1M331 105h1M347 105h1M322 106h1M328 106h1M332 106h1M361 106h1M319 107h1M329 107h2M307 108h1M319 108h1M344 108h1M296 109h1M298 109h1M302 109h1M348 109h1M350 109h1M354 109h1M356 109h1M302 110h1M345 110h1M349 110h2M300 111h1M333 111h1M359 111h1M300 112h2M335 112h1M338 112h1M327 113h1M362 113h1M299 114h1M314 114h1M326 114h1M333 114h1M342 114h1" transform="translate(0 0.5)" stroke="#555" stroke-width="1" fill="none" shape-rendering="crispEdges"/>
<path d="M274 30h1M277 30h1M281 30h1M286 30h1M288 30h1M290 30h1M298 30h1M307 30h1M309 30h2M269 31h1M283 31h1M285 31h2M289 31h1M292 31h1M302 31h1M316 31h1M319 31h1M277 32h1M279 32h1M281 32h1M284 32h1M286 32h1M289 32h1M294 32h2M308 32h1M317 32h1M331 32h1M269 33h2M273 33h2M279 33h1M284 33h1M286 33h1M291 33h1M297 33h1M299 33h1M302 33h1M306 33h1M318 33h1M324 33h2M330 33h3M270 34h1M276 34h1M278 34h3M289 34h2M293 34h1M298 34h1M302 34h1M304 34h1M307 34h1M311 34h3M319 34h1M321 34h1M332 34h1M268 35h1M270 35h2M276 35h1M278 35h1M281 35h4M288 35h1M292 35h1M296 35h1M300 35h3M304 35h1M308 35h2M319 35h1M330 35h1M332 35h1M336 35h1M268 36h3M272 36h4M277 36h1M280 36h1M283 36h1M288 36h1M298 36h2M309 36h2M321 36h1M327 36h1M268 37h4M273 37h2M279 37h4M285 37h1M288 37h1M305 37h1M308 37h1M312 37h1M315 37h1M320 37h2M325 37h2M331 37h1M334 37h1M268 38h3M272 38h2M275 38h7M285 38h1M287 38h1M290 38h2M293 38h1M297 38h1M300 38h1M307 38h1M314 38h2M319 38h1M326 38h1M332 38h1M335 38h2M268 39h5M274 39h4M283 39h6M292 39h1M296 39h1M301 39h1M303 39h1M305 39h1M307 39h1M309 39h1M311 39h1M313 39h1M317 39h1M319 39h2M325 39h1M332 39h2M268 40h6M275 40h2M279 40h3M283 40h4M288 40h1M299 40h1M314 40h2M318 40h1M320 40h1M331 40h2M335 40h1M339 40h1M268 41h6M275 41h2M278 41h3M282 41h3M286 41h1M289 41h4M294 41h2M307 41h1M310 41h1M321 41h2M324 41h1M330 41h2M336 41h1M268 42h13M282 42h1M284 42h3M288 42h1M291 42h2M295 42h1M297 42h1M300 42h1M311 42h2M316 42h1M319 42h1M322 42h1M268 43h5M276 43h10M288 43h2M291 43h2M294 43h1M296 43h1M302 43h1M305 43h1M307 43h2M311 43h1M317 43h1M319 43h4M339 43h1M268 44h5M274 44h1M276 44h5M283 44h2M286 44h2M289 44h1M292 44h1M295 44h3M304 44h1M306 44h5M314 44h2M317 44h1M323 44h1M326 44h1M329 44h4M334 44h2M339 44h1M268 45h15M284 45h2M288 45h1M291 45h2M294 45h2M298 45h1M300 45h1M303 45h2M306 45h1M308 45h1M311 45h1M314 45h1M320 45h1M323 45h1M325 45h2M328 45h1M330 45h2M335 45h1M337 45h2M268 46h5M275 46h2M279 46h3M283 46h4M288 46h2M292 46h1M295 46h1M297 46h1M303 46h1M306 46h1M310 46h1M313 46h2M316 46h1M318 46h1M325 46h1M328 46h1M330 46h1M334 46h1M268 47h10M279 47h2M285 47h1M287 47h1M289 47h1M293 47h1M296 47h1M299 47h1M304 47h3M308 47h3M314 47h1M317 47h1M326 47h1M328 47h1M330 47h1M333 47h1M268 48h6M275 48h2M278 48h6M285 48h3M290 48h5M297 48h1M299 48h1M304 48h1M306 48h3M310 48h1M312 48h4M317 48h2M321 48h1M324 48h1M330 48h1M334 48h1M337 48h1M268 49h11M280 49h2M283 49h3M287 49h2M291 49h3M296 49h1M298 49h1M301 49h1M306 49h1M316 49h1M318 49h1M321 49h1M324 49h1M334 49h2M338 49h1M268 50h4M274 50h14M289 50h2M292 50h2M295 50h2M304 50h1M307 50h1M309 50h1M318 50h1M321 50h1M324 50h1M326 50h1M335 50h1M268 51h8M277 51h7M285 51h1M287 51h1M290 51h1M294 51h3M299 51h3M314 51h1M317 51h1M322 51h1M325 51h2M329 51h2M336 51h1M268 52h5M274 52h5M280 52h1M283 52h2M287 52h1M289 52h1M291 52h1M293 52h3M300 52h1M302 52h2M307 52h1M309 52h1M311 52h1M313 52h2M316 52h2M319 52h1M321 52h1M324 52h1M326 52h1M328 52h2M337 52h1M268 53h7M276 53h2M279 53h2M283 53h1M285 53h2M288 53h1M291 53h1M296 53h1M298 53h3M303 53h1M305 53h2M308 53h1M311 53h2M318 53h1M325 53h1M329 53h1M331 53h1M333 53h1M335 53h1M339 53h1M268 54h4M273 54h1M276 54h1M278 54h1M280 54h7M288 54h2M292 54h1M294 54h1M298 54h2M302 54h1M305 54h1M310 54h2M322 54h1M325 54h2M329 54h1M268 55h7M276 55h1M278 55h4M288 55h1M290 55h2M294 55h1M296 55h7M304 55h1M309 55h2M314 55h1M317 55h1M320 55h1M325 55h1M329 55h1M331 55h1M336 55h1M268 56h4M273 56h2M276 56h3M280 56h4M285 56h3M290 56h1M292 56h1M301 56h1M305 56h1M317 56h1M319 56h1M321 56h1M323 56h2M326 56h3M331 56h2M268 57h4M273 57h1M275 57h3M279 57h2M282 57h6M290 57h2M295 57h1M297 57h2M300 57h2M303 57h1M305 57h3M309 57h1M314 57h2M321 57h1M325 57h1M330 57h1M268 58h4M274 58h7M282 58h3M287 58h3M293 58h2M304 58h1M312 58h1M314 58h3M318 58h1M324 58h1M333 58h1M268 59h4M273 59h7M282 59h2M287 59h1M289 59h1M292 59h1M294 59h1M299 59h3M303 59h1M306 59h1M308 59h2M315 59h2M321 59h1M325 59h1M327 59h1M329 59h1M332 59h2M336 59h1M268 60h4M273 60h1M275 60h6M282 60h4M287 60h1M290 60h1M293 60h2M296 60h1M304 60h1M310 60h1M313 60h1M317 60h1M321 60h1M324 60h1M335 60h1M268 61h4M273 61h3M278 61h1M280 61h3M284 61h2M288 61h2M294 61h2M297 61h1M304 61h1M306 61h1M309 61h1M313 61h1M315 61h3M322 61h1M326 61h1M328 61h2M268 62h5M274 62h9M284 62h2M287 62h1M289 62h3M294 62h3M301 62h1M304 62h2M307 62h1M313 62h2M319 62h1M323 62h1M327 62h2M268 63h14M283 63h1M286 63h1M290 63h1M293 63h1M295 63h3M300 63h1M302 63h1M308 63h2M314 63h1M328 63h1M331 63h1M268 64h4M273 64h3M278 64h1M280 64h3M284 64h1M289 64h1M291 64h2M297 64h1M299 64h1M302 64h1M310 64h1M314 64h1M316 64h1M268 65h7M276 65h1M278 65h3M282 65h1M285 65h1M289 65h1M297 65h2M300 65h1M304 65h1M310 65h1M314 65h1M317 65h1M328 65h1M268 66h3M272 66h5M281 66h2M284 66h3M288 66h3M294 66h2M297 66h3M321 66h1M268 67h11M280 67h1M283 67h2M287 67h3M293 67h1M295 67h1M304 67h1M268 68h2M271 68h2M277 68h1M279 68h2M283 68h4M289 68h2M293 68h1M301 68h1M268 69h5M274 69h7M285 69h1M287 69h1M289 69h1M297 69h2M268 70h5M274 70h1M276 70h1M278 70h1M284 70h2M289 70h1M293 70h1M268 71h5M274 71h2M277 71h7M288 71h3M293 71h1M295 71h1M298 71h1M268 72h9M281 72h2M284 72h1M287 72h2M296 72h1M268 73h2M271 73h3M275 73h2M278 73h5M284 73h1M290 73h1M292 73h2M268 74h4M274 74h2M277 74h1M279 74h3M283 74h1M290 74h1M268 75h6M275 75h2M278 75h1M287 75h2M268 76h2M271 76h1M275 76h1M277 76h5M283 76h3M287 76h1M296 76h1M268 77h4M273 77h3M279 77h1M283 77h1M295 77h1M268 78h2M271 78h1M273 78h2M276 78h1M278 78h1M281 78h2M285 78h1M287 78h2M292 78h1M295 78h1M268 79h2M271 79h1M276 79h1M278 79h1M281 79h1M286 79h3M268 80h7M276 80h1M278 80h3M290 80h1M268 81h5M274 81h1M276 81h2M279 81h2M282 81h1M284 81h1M288 81h1M291 81h1M268 82h6M275 82h1M277 82h2M280 82h4M292 82h1M268 83h1M270 83h1M274 83h2M277 83h2M280 83h1M282 83h1M286 83h1M290 83h1M293 83h1M268 84h5M274 84h1M282 84h1M285 84h2M291 84h2M295 84h1M268 85h5M275 85h2M278 85h1M280 85h1M284 85h1M268 86h6M279 86h1M282 86h2M286 86h1M289 86h1M291 86h1M295 86h1M268 87h7M276 87h1M281 87h2M285 87h3M294 87h1M268 88h3M272 88h3M276 88h1M279 88h1M281 88h5M289 88h1M292 88h1M295 88h1M268 89h10M281 89h1M284 89h2M293 89h1M268 90h6M275 90h2M279 90h3M284 90h4M295 90h1M268 91h4M274 91h1M276 91h1M278 91h5M284 91h1M287 91h1M268 92h18M295 92h1M268 93h7M276 93h2M280 93h7M268 94h4M275 94h8M285 94h1M287 94h2M268 95h5M274 95h8M283 95h1M287 95h1M289 95h1M268 96h5M274 96h9M288 96h1M293 96h1M268 97h8M279 97h1M281 97h1M284 97h1M287 97h3M294 97h1M268 98h8M278 98h1M280 98h1M282 98h1M284 98h1M287 98h1M292 98h2M268 99h6M275 99h1M277 99h3M281 99h1M288 99h1M290 99h1M268 100h7M276 100h3M282 100h1M284 100h2M287 100h1M268 101h6M277 101h2M280 101h4M285 101h2M288 101h3M292 101h2M268 102h9M279 102h2M282 102h1M284 102h1M268 103h7M278 103h3M288 103h1M294 103h2M268 104h8M277 104h1M279 104h3M283 104h2M290 104h1M295 104h1M268 105h8M277 105h2M280 105h2M288 105h1M291 105h1M268 106h8M277 106h1M281 106h1M284 106h2M289 106h1M295 106h1M268 107h10M279 107h4M284 107h1M286 107h1M289 107h2M268 108h10M281 108h1M283 108h1M285 108h2M289 108h1M291 108h1M268 109h5M274 109h4M279 109h5M285 109h1M289 109h1M291 109h1M293 109h1M268 110h8M277 110h7M285 110h1M288 110h2M293 110h1M268 111h6M275 111h6M283 111h1M286 111h1M290 111h2M294 111h1M268 112h5M274 112h2M277 112h6M284 112h3M268 113h9M278 113h2M287 113h1M294 113h1M268 114h5M274 114h5M286 114h2M290 114h2M293 114h2" transform="translate(0 0.5)" stroke="#000" stroke-width="1" fill="none" shape-rendering="crispEdges"/>
<rect x="268.5" y="11.5" width="110" height="103" fill="none" stroke="#000" stroke-width="1.1"/>
<line x1="299.5" y1="11.4" x2="299.5" y2="114.3" stroke="#000" stroke-width="1"/>
<line x1="268.2" y1="65.5" x2="378" y2="65.5" stroke="#000" stroke-width="1"/>
<path d="M268.2 114.3v2.6M268.2 114.3h-2.6M276.5 114.3v1.4M268.2 106.6h-1.4M281.3 114.3v1.4M268.2 102.0h-1.4M284.7 114.3v1.4M268.2 98.8h-1.4M287.4 114.3v1.4M268.2 96.3h-1.4M289.6 114.3v1.4M268.2 94.3h-1.4M291.4 114.3v1.4M268.2 92.6h-1.4M293.0 114.3v1.4M268.2 91.1h-1.4M294.4 114.3v1.4M268.2 89.8h-1.4M295.6 114.3v2.6M268.2 88.6h-2.6M303.9 114.3v1.4M268.2 80.8h-1.4M308.7 114.3v1.4M268.2 76.3h-1.4M312.2 114.3v1.4M268.2 73.1h-1.4M314.8 114.3v1.4M268.2 70.6h-1.4M317.0 114.3v1.4M268.2 68.6h-1.4M318.8 114.3v1.4M268.2 66.8h-1.4M320.4 114.3v1.4M268.2 65.3h-1.4M321.8 114.3v1.4M268.2 64.0h-1.4M323.1 114.3v2.6M268.2 62.9h-2.6M331.4 114.3v1.4M268.2 55.1h-1.4M336.2 114.3v1.4M268.2 50.6h-1.4M339.6 114.3v1.4M268.2 47.4h-1.4M342.3 114.3v1.4M268.2 44.9h-1.4M344.5 114.3v1.4M268.2 42.8h-1.4M346.3 114.3v1.4M268.2 41.1h-1.4M347.9 114.3v1.4M268.2 39.6h-1.4M349.3 114.3v1.4M268.2 38.3h-1.4M350.6 114.3v2.6M268.2 37.1h-2.6M358.8 114.3v1.4M268.2 29.4h-1.4M363.6 114.3v1.4M268.2 24.9h-1.4M367.1 114.3v1.4M268.2 21.6h-1.4M369.7 114.3v1.4M268.2 19.1h-1.4M371.9 114.3v1.4M268.2 17.1h-1.4M373.7 114.3v1.4M268.2 15.4h-1.4M375.3 114.3v1.4M268.2 13.9h-1.4M376.7 114.3v1.4M268.2 12.6h-1.4M378.0 114.3v2.2M268.2 11.4h-2.2" stroke="#000" stroke-width="0.75" fill="none"/>
<text x="267.9" y="123.5" font-size="7" text-anchor="middle" font-weight="normal" fill="#0a0a0a" stroke="#111" stroke-width="0.2">10<tspan dy="-0.5em" font-size="78%">0</tspan><tspan dy="0.39em" font-size="100%">&#8203;</tspan></text>
<text x="264.2" y="113.6" font-size="7" text-anchor="middle" font-weight="normal" fill="#0a0a0a" transform="rotate(-90 264.2 113.6)" stroke="#111" stroke-width="0.2">10<tspan dy="-0.5em" font-size="78%">0</tspan><tspan dy="0.39em" font-size="100%">&#8203;</tspan></text>
<text x="295.35" y="123.5" font-size="7" text-anchor="middle" font-weight="normal" fill="#0a0a0a" stroke="#111" stroke-width="0.2">10<tspan dy="-0.5em" font-size="78%">1</tspan><tspan dy="0.39em" font-size="100%">&#8203;</tspan></text>
<text x="264.2" y="87.875" font-size="7" text-anchor="middle" font-weight="normal" fill="#0a0a0a" transform="rotate(-90 264.2 87.875)" stroke="#111" stroke-width="0.2">10<tspan dy="-0.5em" font-size="78%">1</tspan><tspan dy="0.39em" font-size="100%">&#8203;</tspan></text>
<text x="322.8" y="123.5" font-size="7" text-anchor="middle" font-weight="normal" fill="#0a0a0a" stroke="#111" stroke-width="0.2">10<tspan dy="-0.5em" font-size="78%">2</tspan><tspan dy="0.39em" font-size="100%">&#8203;</tspan></text>
<text x="264.2" y="62.15" font-size="7" text-anchor="middle" font-weight="normal" fill="#0a0a0a" transform="rotate(-90 264.2 62.15)" stroke="#111" stroke-width="0.2">10<tspan dy="-0.5em" font-size="78%">2</tspan><tspan dy="0.39em" font-size="100%">&#8203;</tspan></text>
<text x="350.25" y="123.5" font-size="7" text-anchor="middle" font-weight="normal" fill="#0a0a0a" stroke="#111" stroke-width="0.2">10<tspan dy="-0.5em" font-size="78%">3</tspan><tspan dy="0.39em" font-size="100%">&#8203;</tspan></text>
<text x="264.2" y="36.425" font-size="7" text-anchor="middle" font-weight="normal" fill="#0a0a0a" transform="rotate(-90 264.2 36.425)" stroke="#111" stroke-width="0.2">10<tspan dy="-0.5em" font-size="78%">3</tspan><tspan dy="0.39em" font-size="100%">&#8203;</tspan></text>
<text x="377.7" y="123.5" font-size="7" text-anchor="middle" font-weight="normal" fill="#0a0a0a" stroke="#111" stroke-width="0.2">10<tspan dy="-0.5em" font-size="78%">4</tspan><tspan dy="0.39em" font-size="100%">&#8203;</tspan></text>
<text x="264.2" y="10.7" font-size="7" text-anchor="middle" font-weight="normal" fill="#0a0a0a" transform="rotate(-90 264.2 10.7)" stroke="#111" stroke-width="0.2">10<tspan dy="-0.5em" font-size="78%">4</tspan><tspan dy="0.39em" font-size="100%">&#8203;</tspan></text>
<text x="352.2" y="27.3" font-size="10.3" text-anchor="start" font-weight="normal" fill="#0a0a0a" stroke="#111" stroke-width="0.2">3.87</text>
<path d="M426 18h1M484 19h1M449 22h1M425 23h1M417 26h1M439 26h2M472 26h1M409 27h1M424 27h1M423 28h1M445 28h1M435 29h1M447 29h1M431 30h1M446 30h1M454 31h1M405 32h1M438 32h1M441 32h1M457 32h1M420 33h2M437 33h1M414 34h1M421 34h1M425 34h1M463 34h1M397 35h1M403 35h1M426 35h1M446 35h2M469 35h1M454 36h1M424 37h1M441 37h1M466 37h1M417 38h1M425 38h1M427 38h1M438 38h1M460 38h1M465 38h1M472 38h1M398 39h1M406 39h2M415 39h1M418 39h1M420 39h1M439 39h1M462 39h2M422 40h1M440 40h1M464 40h1M467 40h1M473 40h1M400 41h1M402 41h1M447 41h1M456 41h2M459 41h1M462 41h1M465 41h1M469 41h1M484 41h1M429 42h1M453 42h1M460 42h1M467 42h1M417 43h1M422 43h1M455 43h1M474 43h1M418 44h1M422 44h1M424 44h1M428 44h1M402 45h1M446 45h1M478 45h1M397 46h2M401 46h1M405 46h1M420 46h1M424 46h1M438 46h1M447 46h1M469 46h1M471 46h1M482 46h1M401 47h1M410 47h1M417 47h1M419 47h1M422 47h1M431 47h1M436 47h1M441 47h2M444 47h1M453 47h1M457 47h2M460 47h3M476 47h1M398 48h1M408 48h1M438 48h1M450 48h1M452 48h1M457 48h1M465 48h1M468 48h1M472 48h1M481 48h1M398 49h1M417 49h1M433 49h1M445 49h1M464 49h1M471 49h1M412 50h1M440 50h1M455 50h1M462 50h1M448 51h1M450 51h1M465 51h1M476 51h1M484 51h1M405 52h1M424 52h1M448 52h1M455 52h1M470 52h1M476 52h1M490 52h1M398 53h1M414 53h1M427 53h1M431 53h1M441 53h1M454 53h1M456 53h1M408 54h1M420 54h1M442 54h1M404 55h1M416 55h1M439 55h1M452 55h1M462 55h2M403 56h1M405 56h2M452 56h1M399 57h1M409 57h1M412 57h1M415 57h3M426 57h1M438 57h1M444 57h1M455 57h1M461 57h1M472 57h1M502 57h1M428 58h1M450 58h1M505 58h1M401 59h1M403 59h1M405 59h1M413 59h1M432 59h1M469 59h1M415 60h1M433 60h1M435 60h1M456 60h1M471 60h1M404 61h1M409 61h1M411 61h1M429 61h1M438 61h1M484 61h1M396 62h1M399 62h1M403 62h1M407 62h1M409 62h1M412 62h1M418 62h1M439 62h1M420 63h1M425 63h1M447 63h1M427 64h1M434 64h1M443 64h1M451 64h1M455 64h1M472 64h1M476 64h1M480 64h1M493 64h1M405 65h1M408 65h1M411 65h1M414 65h1M440 65h1M448 65h1M461 65h1M479 65h1M413 66h1M470 66h1M472 66h1M415 67h1M418 67h1M425 67h1M456 67h1M460 67h1M475 67h1M487 67h1M413 68h1M417 68h1M425 68h1M438 68h1M455 68h1M467 68h1M474 68h1M491 68h1M416 69h1M461 69h1M466 69h1M491 69h1M417 70h1M428 70h1M443 70h1M445 70h1M474 70h1M478 70h1M486 70h1M419 71h1M442 71h1M483 71h1M497 71h1M415 72h3M431 72h1M449 72h1M451 72h1M470 72h1M415 73h1M429 73h1M434 73h1M440 73h1M443 73h1M449 73h1M417 74h2M421 74h1M430 74h1M438 74h1M456 74h1M460 74h1M473 74h1M493 74h1M464 75h1M505 75h1M444 76h1M447 76h1M461 76h1M465 76h1M476 76h1M478 76h1M455 77h1M459 77h1M478 77h1M424 78h1M459 78h1M463 78h1M438 80h1M453 80h1M456 80h2M459 80h1M469 80h1M476 80h1M443 81h1M474 81h2M481 81h1M419 83h1M447 83h1M475 83h1M480 83h1M495 83h1M418 84h1M453 84h1M458 84h1M483 84h1M496 84h1M419 85h1M424 85h1M470 85h1M474 85h1M502 85h1M419 86h1M421 86h1M477 86h1M489 86h1M434 87h1M439 87h1M477 87h1M481 87h1M421 88h1M427 88h1M454 88h1M470 88h1M490 88h1M493 88h1M424 89h2M442 89h1M454 89h1M460 89h1M495 89h1M443 90h1M456 90h1M484 90h1M424 91h1M459 91h1M492 91h1M445 92h2M477 92h1M479 92h1M421 93h1M425 93h1M431 93h1M463 93h1M481 93h1M488 93h2M426 94h1M452 94h1M467 94h1M474 94h1M492 94h1M498 94h1M470 95h2M488 95h2M431 96h1M462 96h1M490 96h1M492 96h1M498 96h1M434 97h1M478 97h1M485 97h1M445 98h1M456 98h1M493 98h1M424 99h2M435 99h1M437 99h1M471 99h1M498 99h1M422 100h2M425 100h2M434 100h1M445 100h1M470 100h1M482 100h2M488 100h1M491 100h2M457 101h1M475 101h1M483 101h1M494 101h1M497 101h1M429 102h1M443 102h1M484 102h1M501 102h1M472 103h1M474 103h2M490 103h1M496 103h1M427 104h1M445 104h1M453 104h1M467 104h1M471 104h1M490 104h1M495 104h1M422 105h1M443 105h1M448 105h1M460 105h1M488 105h1M502 105h2M430 106h1M455 106h1M492 106h1M498 106h1M424 107h1M474 107h1M496 107h1M447 108h1M465 108h1M487 108h1M495 108h1M498 108h1M502 108h1M449 109h1M488 109h1M492 109h1M499 109h1M502 109h1M432 110h1M460 110h1M485 110h1M491 110h1M427 111h1M447 111h1M476 111h1M503 111h1M423 112h1M426 112h1M431 112h1M440 112h1M449 112h1M456 112h1M479 112h1M430 113h1M445 113h1M448 113h1M456 113h1M465 113h1M494 113h1M423 114h1M456 114h1M461 114h1" transform="translate(0 0.5)" stroke="#555" stroke-width="1" fill="none" shape-rendering="crispEdges"/>
<path d="M465 43h1M457 44h1M459 44h1M465 44h1M468 44h1M451 45h1M453 45h1M458 45h2M461 45h1M455 46h1M463 46h1M465 46h1M399 66h1M402 66h1M406 66h1M399 67h3M405 67h1M397 68h1M402 69h1M405 69h1M407 69h1M412 69h1M396 70h1M401 70h2M407 70h1M397 71h2M405 71h2M409 71h1M400 72h2M410 72h1M412 72h1M396 73h1M404 73h1M412 73h1M398 74h2M406 74h1M415 74h1M397 75h2M397 76h1M400 76h2M404 76h2M408 76h1M412 76h3M398 77h1M401 77h1M409 77h2M415 77h1M399 78h1M402 78h1M405 78h1M407 78h1M397 79h1M399 79h2M402 79h2M405 79h1M414 79h1M398 80h2M401 80h1M403 80h1M408 80h1M396 81h1M402 81h2M413 81h2M396 82h1M399 82h1M401 82h3M405 82h1M409 82h1M415 82h2M396 83h3M401 83h2M405 83h2M408 83h2M413 83h1M398 84h1M401 84h3M408 84h1M411 84h1M413 84h1M400 85h1M402 85h1M407 85h1M413 85h1M417 85h1M396 86h1M398 86h1M401 86h1M411 86h1M417 86h1M396 87h1M398 87h1M401 87h1M409 87h1M397 88h1M407 88h2M411 88h1M415 88h1M417 88h1M399 89h2M402 89h7M410 89h2M413 89h1M397 90h3M403 90h1M407 90h2M410 90h1M415 90h1M396 91h1M398 91h2M401 91h1M403 91h1M406 91h1M411 91h1M418 91h2M396 92h1M399 92h1M401 92h1M404 92h1M406 92h1M410 92h2M416 92h2M398 93h1M404 93h1M407 93h1M410 93h1M414 93h2M397 94h6M405 94h1M407 94h1M409 94h1M412 94h1M419 94h1M397 95h4M402 95h1M404 95h1M406 95h1M411 95h2M415 95h1M396 96h1M401 96h1M403 96h1M406 96h1M408 96h1M411 96h1M413 96h3M396 97h1M398 97h2M404 97h1M408 97h1M414 97h3M419 97h1M398 98h1M400 98h4M405 98h4M412 98h1M417 98h1M397 99h3M402 99h4M407 99h2M410 99h1M412 99h1M418 99h1M420 99h1M396 100h15M412 100h1M414 100h2M396 101h2M400 101h1M402 101h4M409 101h3M414 101h1M416 101h2M420 101h1M396 102h1M398 102h2M401 102h2M404 102h6M414 102h2M419 102h2M398 103h9M409 103h2M412 103h2M415 103h3M396 104h8M405 104h2M420 104h1M396 105h7M404 105h6M413 105h1M415 105h1M418 105h1M396 106h4M401 106h2M404 106h3M408 106h6M396 107h9M406 107h1M411 107h1M413 107h1M415 107h1M417 107h1M396 108h6M403 108h2M406 108h3M412 108h2M415 108h2M421 108h1M396 109h14M412 109h1M414 109h1M418 109h1M396 110h14M413 110h1M420 110h1M396 111h5M402 111h5M408 111h2M412 111h1M418 111h2M421 111h1M396 112h1M398 112h12M411 112h2M414 112h2M417 112h1M396 113h1M399 113h6M410 113h1M415 113h1M420 113h1M396 114h12M409 114h2M412 114h1M419 114h1" transform="translate(0 0.5)" stroke="#000" stroke-width="1" fill="none" shape-rendering="crispEdges"/>
<rect x="396.5" y="12.5" width="110" height="102" fill="none" stroke="#000" stroke-width="1.1"/>
<line x1="427.5" y1="12" x2="427.5" y2="114.1" stroke="#000" stroke-width="1"/>
<line x1="396" y1="65.5" x2="506.6" y2="65.5" stroke="#000" stroke-width="1"/>
<rect x="420.5" y="17.5" width="28" height="48" fill="none" stroke="#000" stroke-width="1.15"/>
<path d="M396.0 114.1v2.6M396.0 114.1h-2.6M404.3 114.1v1.4M396.0 106.4h-1.4M409.2 114.1v1.4M396.0 101.9h-1.4M412.6 114.1v1.4M396.0 98.7h-1.4M415.3 114.1v1.4M396.0 96.3h-1.4M417.5 114.1v1.4M396.0 94.2h-1.4M419.4 114.1v1.4M396.0 92.5h-1.4M421.0 114.1v1.4M396.0 91.0h-1.4M422.4 114.1v1.4M396.0 89.7h-1.4M423.6 114.1v2.6M396.0 88.6h-2.6M432.0 114.1v1.4M396.0 80.9h-1.4M436.8 114.1v1.4M396.0 76.4h-1.4M440.3 114.1v1.4M396.0 73.2h-1.4M443.0 114.1v1.4M396.0 70.7h-1.4M445.2 114.1v1.4M396.0 68.7h-1.4M447.0 114.1v1.4M396.0 67.0h-1.4M448.6 114.1v1.4M396.0 65.5h-1.4M450.0 114.1v1.4M396.0 64.2h-1.4M451.3 114.1v2.6M396.0 63.0h-2.6M459.6 114.1v1.4M396.0 55.4h-1.4M464.5 114.1v1.4M396.0 50.9h-1.4M467.9 114.1v1.4M396.0 47.7h-1.4M470.6 114.1v1.4M396.0 45.2h-1.4M472.8 114.1v1.4M396.0 43.2h-1.4M474.7 114.1v1.4M396.0 41.5h-1.4M476.3 114.1v1.4M396.0 40.0h-1.4M477.7 114.1v1.4M396.0 38.7h-1.4M479.0 114.1v2.6M396.0 37.5h-2.6M487.3 114.1v1.4M396.0 29.8h-1.4M492.1 114.1v1.4M396.0 25.3h-1.4M495.6 114.1v1.4M396.0 22.2h-1.4M498.3 114.1v1.4M396.0 19.7h-1.4M500.5 114.1v1.4M396.0 17.7h-1.4M502.3 114.1v1.4M396.0 16.0h-1.4M503.9 114.1v1.4M396.0 14.5h-1.4M505.3 114.1v1.4M396.0 13.2h-1.4M506.6 114.1v2.2M396.0 12.0h-2.2" stroke="#000" stroke-width="0.75" fill="none"/>
<text x="395.7" y="123.3" font-size="7" text-anchor="middle" font-weight="normal" fill="#0a0a0a" stroke="#111" stroke-width="0.2">10<tspan dy="-0.5em" font-size="78%">0</tspan><tspan dy="0.39em" font-size="100%">&#8203;</tspan></text>
<text x="392" y="113.4" font-size="7" text-anchor="middle" font-weight="normal" fill="#0a0a0a" transform="rotate(-90 392 113.4)" stroke="#111" stroke-width="0.2">10<tspan dy="-0.5em" font-size="78%">0</tspan><tspan dy="0.39em" font-size="100%">&#8203;</tspan></text>
<text x="423.35" y="123.3" font-size="7" text-anchor="middle" font-weight="normal" fill="#0a0a0a" stroke="#111" stroke-width="0.2">10<tspan dy="-0.5em" font-size="78%">1</tspan><tspan dy="0.39em" font-size="100%">&#8203;</tspan></text>
<text x="392" y="87.875" font-size="7" text-anchor="middle" font-weight="normal" fill="#0a0a0a" transform="rotate(-90 392 87.875)" stroke="#111" stroke-width="0.2">10<tspan dy="-0.5em" font-size="78%">1</tspan><tspan dy="0.39em" font-size="100%">&#8203;</tspan></text>
<text x="451" y="123.3" font-size="7" text-anchor="middle" font-weight="normal" fill="#0a0a0a" stroke="#111" stroke-width="0.2">10<tspan dy="-0.5em" font-size="78%">2</tspan><tspan dy="0.39em" font-size="100%">&#8203;</tspan></text>
<text x="392" y="62.35" font-size="7" text-anchor="middle" font-weight="normal" fill="#0a0a0a" transform="rotate(-90 392 62.35)" stroke="#111" stroke-width="0.2">10<tspan dy="-0.5em" font-size="78%">2</tspan><tspan dy="0.39em" font-size="100%">&#8203;</tspan></text>
<text x="478.65" y="123.3" font-size="7" text-anchor="middle" font-weight="normal" fill="#0a0a0a" stroke="#111" stroke-width="0.2">10<tspan dy="-0.5em" font-size="78%">3</tspan><tspan dy="0.39em" font-size="100%">&#8203;</tspan></text>
<text x="392" y="36.825" font-size="7" text-anchor="middle" font-weight="normal" fill="#0a0a0a" transform="rotate(-90 392 36.825)" stroke="#111" stroke-width="0.2">10<tspan dy="-0.5em" font-size="78%">3</tspan><tspan dy="0.39em" font-size="100%">&#8203;</tspan></text>
<text x="506.3" y="123.3" font-size="7" text-anchor="middle" font-weight="normal" fill="#0a0a0a" stroke="#111" stroke-width="0.2">10<tspan dy="-0.5em" font-size="78%">4</tspan><tspan dy="0.39em" font-size="100%">&#8203;</tspan></text>
<text x="392" y="11.3" font-size="7" text-anchor="middle" font-weight="normal" fill="#0a0a0a" transform="rotate(-90 392 11.3)" stroke="#111" stroke-width="0.2">10<tspan dy="-0.5em" font-size="78%">4</tspan><tspan dy="0.39em" font-size="100%">&#8203;</tspan></text>
<text x="427.6" y="27.4" font-size="10.3" text-anchor="start" font-weight="normal" fill="#0a0a0a" stroke="#111" stroke-width="0.2">2.4</text>
<text x="438.5" y="60.5" font-size="4.6" text-anchor="start" font-weight="bold" fill="#0a0a0a">R5</text>
<path d="M340 131h1M357 131h1M348 133h1M350 134h1M363 134h1M374 134h1M298 136h1M311 136h1M290 137h1M302 137h1M326 137h1M346 137h1M333 138h1M335 138h1M356 138h1M316 139h1M326 139h1M355 139h1M302 140h1M315 140h1M301 141h1M322 141h1M338 141h1M325 142h1M344 142h1M313 143h1M315 143h1M321 143h1M324 143h1M326 143h1M328 143h1M330 143h1M342 143h1M289 144h1M316 144h2M334 144h1M338 144h1M271 145h1M276 145h1M315 145h1M276 146h1M294 146h1M299 146h1M313 146h1M283 147h1M337 147h1M347 147h1M269 148h2M280 148h2M286 148h1M289 148h1M293 148h1M295 148h1M303 148h2M341 148h1M343 148h1M347 148h1M281 149h1M350 150h1M347 151h1M346 152h1M346 156h1M352 156h2M347 159h1M348 160h1M352 160h1M349 162h1M353 162h1M348 163h1M354 163h1M372 163h1M356 165h1M348 167h1M353 168h2M364 169h1M366 169h1M277 172h1M353 173h1M355 173h1M359 173h1M282 174h1M275 175h1M280 175h2M359 175h1M278 176h1M360 176h1M278 177h1M280 177h1M283 178h2M351 178h1M371 178h1M278 179h1M280 179h1M353 179h1M279 180h1M354 180h1M358 180h1M364 180h2M276 181h1M278 181h1M280 181h1M357 181h1M359 181h1M275 182h1M277 184h1M279 184h1M351 184h1M354 184h1M276 185h1M279 185h1M281 185h1M275 186h1M278 186h1M352 186h1M356 186h1M376 186h1M281 187h1M351 187h2M279 188h1M282 188h1M357 188h1M280 189h3M352 189h1M359 189h2M278 190h1M275 191h1M281 191h1M283 191h1M350 191h1M357 191h1M365 191h2M349 193h4M354 193h2M278 194h1M369 194h1M285 195h1M348 195h1M350 195h1M284 196h2M351 196h1M355 197h1M282 198h1M354 198h1M366 198h1M280 199h1M283 199h2M346 199h1M348 199h1M358 199h1M278 200h1M281 200h1M276 201h1M281 201h1M353 201h1M344 204h1M343 206h1M348 206h2M301 208h1M305 208h1M340 208h1M353 208h1M359 209h1M301 210h1M307 210h2M348 210h1M296 211h1M298 211h1M303 211h1M309 211h1M339 211h1M295 212h1M311 212h1M333 212h1M335 212h1M338 212h1M348 212h1M290 213h2M295 213h1M297 213h1M301 213h1M317 213h1M330 213h2M288 214h1M292 214h2M308 214h1M311 214h1M322 214h1M324 214h2M328 214h1M361 214h1M297 215h1M300 215h1M317 215h1M320 215h2M323 215h1M328 215h1M338 215h1M288 216h1M296 216h1M302 216h1M305 216h1M309 216h1M314 216h1M329 216h1M335 216h1M343 216h1M289 217h2M300 217h1M315 217h2M329 217h1M306 218h1M317 218h1M324 218h1M332 218h1M334 218h2M340 218h1M357 218h1M307 219h1M318 219h1M334 219h1M297 220h1M324 220h1M341 220h1M367 220h1M375 220h1M309 221h1M321 221h1M327 221h1M339 221h1M374 221h1M311 222h1M313 222h1M336 222h1M342 222h1M336 223h1M298 224h1M307 224h1M312 224h1M318 224h1M321 224h1M330 224h1M293 225h2M322 225h1M320 226h1M341 226h1M310 227h1M296 228h1M299 228h1M310 228h1M340 228h1M290 229h1M296 229h1M319 229h1M348 229h1M290 230h1M304 230h1M327 230h1M335 230h1M315 231h1M352 231h1M297 232h2M329 232h1M290 233h1M299 233h1M307 233h1" transform="translate(0 0.5)" stroke="#555" stroke-width="1" fill="none" shape-rendering="crispEdges"/>
<path d="M319 146h1M326 146h2M315 147h1M324 147h1M314 148h1M320 148h1M322 148h1M324 148h1M330 148h1M271 149h2M293 149h1M296 149h1M306 149h1M313 149h1M315 149h2M319 149h1M322 149h2M325 149h1M328 149h1M330 149h1M332 149h2M337 149h1M271 150h2M277 150h1M285 150h1M287 150h1M291 150h1M297 150h4M303 150h2M308 150h1M312 150h3M319 150h1M323 150h1M326 150h1M328 150h1M332 150h2M339 150h1M267 151h1M269 151h1M273 151h1M275 151h1M279 151h3M291 151h1M300 151h1M306 151h1M311 151h1M313 151h1M316 151h1M322 151h1M324 151h2M332 151h1M336 151h2M267 152h2M271 152h2M277 152h1M281 152h1M285 152h4M290 152h1M293 152h3M300 152h5M306 152h1M308 152h3M312 152h1M319 152h3M323 152h2M327 152h3M331 152h1M335 152h1M341 152h1M267 153h1M270 153h1M272 153h1M274 153h2M284 153h1M286 153h2M289 153h1M291 153h1M293 153h1M301 153h1M307 153h2M320 153h1M328 153h2M332 153h1M336 153h3M342 153h1M269 154h6M283 154h1M285 154h2M289 154h2M294 154h2M298 154h2M314 154h3M321 154h4M326 154h2M331 154h2M335 154h2M268 155h1M270 155h1M277 155h1M283 155h1M291 155h1M294 155h1M296 155h1M299 155h2M302 155h1M305 155h1M307 155h3M312 155h3M316 155h1M319 155h5M334 155h1M336 155h2M270 156h1M273 156h2M276 156h1M278 156h2M282 156h2M289 156h2M294 156h1M299 156h1M302 156h2M306 156h1M308 156h2M312 156h1M316 156h1M322 156h1M325 156h2M328 156h1M332 156h2M337 156h2M341 156h1M344 156h1M270 157h2M273 157h1M280 157h1M296 157h1M300 157h1M302 157h1M304 157h1M308 157h1M312 157h3M318 157h1M320 157h2M323 157h2M327 157h1M331 157h1M333 157h1M339 157h1M343 157h1M269 158h2M273 158h1M275 158h2M280 158h1M282 158h2M286 158h1M290 158h2M293 158h1M296 158h1M303 158h1M305 158h1M313 158h3M317 158h3M321 158h3M325 158h2M329 158h1M333 158h3M337 158h1M345 158h1M267 159h1M270 159h2M275 159h2M279 159h1M284 159h1M287 159h2M292 159h2M295 159h1M298 159h1M300 159h1M303 159h1M306 159h1M310 159h1M315 159h1M317 159h1M324 159h6M332 159h2M337 159h1M343 159h1M267 160h1M269 160h1M271 160h1M279 160h1M281 160h1M285 160h2M288 160h1M293 160h4M299 160h1M303 160h1M309 160h1M311 160h2M314 160h1M318 160h1M321 160h4M326 160h2M329 160h2M332 160h2M336 160h1M345 160h1M270 161h2M278 161h2M281 161h2M284 161h1M287 161h1M289 161h2M293 161h1M297 161h2M301 161h1M305 161h3M309 161h1M313 161h2M316 161h4M321 161h1M323 161h4M328 161h3M332 161h3M337 161h1M344 161h3M269 162h2M272 162h2M275 162h1M277 162h2M280 162h1M282 162h2M287 162h1M290 162h3M294 162h1M297 162h3M306 162h3M311 162h2M315 162h2M318 162h4M323 162h1M325 162h3M329 162h1M333 162h5M342 162h2M267 163h6M276 163h3M284 163h3M288 163h4M302 163h2M305 163h1M308 163h1M313 163h2M317 163h2M321 163h4M330 163h1M335 163h2M338 163h2M269 164h1M273 164h1M277 164h1M282 164h1M285 164h3M289 164h1M291 164h1M296 164h1M298 164h1M301 164h1M304 164h1M307 164h1M309 164h4M314 164h3M318 164h2M321 164h4M328 164h3M332 164h1M334 164h2M338 164h1M343 164h1M269 165h1M272 165h1M275 165h1M277 165h1M279 165h1M286 165h1M288 165h1M290 165h2M296 165h1M301 165h5M308 165h3M312 165h2M316 165h2M319 165h12M337 165h1M340 165h2M271 166h1M274 166h3M280 166h2M284 166h1M289 166h1M291 166h3M295 166h1M300 166h3M304 166h2M308 166h2M311 166h1M314 166h5M320 166h1M322 166h1M324 166h1M326 166h1M328 166h5M334 166h4M340 166h1M346 166h1M267 167h2M270 167h3M283 167h2M288 167h1M294 167h4M302 167h1M309 167h1M312 167h4M317 167h2M321 167h5M327 167h1M330 167h3M336 167h1M339 167h2M342 167h2M347 167h1M268 168h1M270 168h3M274 168h2M279 168h2M282 168h1M284 168h1M288 168h1M298 168h1M304 168h2M311 168h2M315 168h3M319 168h8M334 168h1M336 168h2M342 168h1M270 169h2M275 169h1M281 169h1M284 169h1M293 169h4M303 169h2M306 169h1M309 169h1M313 169h2M317 169h4M322 169h1M324 169h2M327 169h1M329 169h8M339 169h1M342 169h2M346 169h1M269 170h1M273 170h2M277 170h1M282 170h3M295 170h1M298 170h1M304 170h2M307 170h1M309 170h2M314 170h2M317 170h7M325 170h2M328 170h1M330 170h2M333 170h1M335 170h2M338 170h1M343 170h1M346 170h1M267 171h1M269 171h1M303 171h1M306 171h3M311 171h2M314 171h3M318 171h3M322 171h2M326 171h1M330 171h3M335 171h2M339 171h1M343 171h2M346 171h2M269 172h2M272 172h1M282 172h1M286 172h1M289 172h1M296 172h2M302 172h1M304 172h1M306 172h2M310 172h1M312 172h2M315 172h4M321 172h1M323 172h3M327 172h3M331 172h1M333 172h1M336 172h1M341 172h1M348 172h1M270 173h1M294 173h1M296 173h1M301 173h2M306 173h2M312 173h3M316 173h3M320 173h5M326 173h2M329 173h4M334 173h4M342 173h1M347 173h1M269 174h2M273 174h2M285 174h1M287 174h1M301 174h1M307 174h1M309 174h1M313 174h1M319 174h1M321 174h5M327 174h4M332 174h1M335 174h3M339 174h2M347 174h1M270 175h1M272 175h2M286 175h2M289 175h2M305 175h2M309 175h1M313 175h1M315 175h2M320 175h8M329 175h2M332 175h2M335 175h2M338 175h4M343 175h1M345 175h3M349 175h1M269 176h5M290 176h1M292 176h1M300 176h2M305 176h1M312 176h1M314 176h4M320 176h1M323 176h1M325 176h6M332 176h1M334 176h5M342 176h1M344 176h2M267 177h4M272 177h2M289 177h1M293 177h1M296 177h1M298 177h3M305 177h2M311 177h1M313 177h2M316 177h1M318 177h3M322 177h5M328 177h5M334 177h2M337 177h1M339 177h3M268 178h1M270 178h1M274 178h1M295 178h3M311 178h1M313 178h3M317 178h2M320 178h3M324 178h13M339 178h1M342 178h2M345 178h1M347 178h1M349 178h1M270 179h2M273 179h2M285 179h3M295 179h3M301 179h1M305 179h2M309 179h1M311 179h2M314 179h2M317 179h2M320 179h3M324 179h9M334 179h1M336 179h4M341 179h1M345 179h1M268 180h2M294 180h1M296 180h1M298 180h1M302 180h1M306 180h2M310 180h1M312 180h1M314 180h1M317 180h1M320 180h15M336 180h3M340 180h1M343 180h1M347 180h1M349 180h1M270 181h3M285 181h1M291 181h1M296 181h1M300 181h1M306 181h1M308 181h1M310 181h1M312 181h3M316 181h2M319 181h1M321 181h13M335 181h3M340 181h1M343 181h2M268 182h1M272 182h2M289 182h1M293 182h1M298 182h2M301 182h1M311 182h1M313 182h1M316 182h2M320 182h13M334 182h1M337 182h1M339 182h1M341 182h1M289 183h2M293 183h1M299 183h1M301 183h1M303 183h1M305 183h1M309 183h1M311 183h2M314 183h2M317 183h4M322 183h1M324 183h4M329 183h4M335 183h2M339 183h1M343 183h2M267 184h1M274 184h1M288 184h1M294 184h1M296 184h1M299 184h2M302 184h1M308 184h1M310 184h6M318 184h2M321 184h2M324 184h13M338 184h1M340 184h2M347 184h1M272 185h1M292 185h1M300 185h2M308 185h1M310 185h1M315 185h3M319 185h2M322 185h5M328 185h7M337 185h1M269 186h1M271 186h1M301 186h1M306 186h1M310 186h3M314 186h1M316 186h20M339 186h1M344 186h1M346 186h1M349 186h1M269 187h1M271 187h2M274 187h1M288 187h1M297 187h1M300 187h2M305 187h1M308 187h1M311 187h2M314 187h5M320 187h10M332 187h1M336 187h1M338 187h4M344 187h2M348 187h1M269 188h2M285 188h2M288 188h2M292 188h1M294 188h1M296 188h2M300 188h1M302 188h1M307 188h1M309 188h2M313 188h3M318 188h2M322 188h8M331 188h5M337 188h1M339 188h1M342 188h1M344 188h1M347 188h1M270 189h1M272 189h1M294 189h1M297 189h1M300 189h1M302 189h3M310 189h1M313 189h1M315 189h3M319 189h11M331 189h1M333 189h1M335 189h4M340 189h1M344 189h1M270 190h2M273 190h1M286 190h1M289 190h2M299 190h1M301 190h3M306 190h2M310 190h1M312 190h1M314 190h1M316 190h11M328 190h5M334 190h5M340 190h1M344 190h2M348 190h1M268 191h1M270 191h2M273 191h1M293 191h1M299 191h2M305 191h1M307 191h1M313 191h2M319 191h1M324 191h2M327 191h3M332 191h1M334 191h2M338 191h2M341 191h2M268 192h1M270 192h2M287 192h1M293 192h2M297 192h2M304 192h1M306 192h1M315 192h4M320 192h4M326 192h4M331 192h3M337 192h1M341 192h2M346 192h1M268 193h1M270 193h2M298 193h2M306 193h1M309 193h1M311 193h1M315 193h4M320 193h13M335 193h3M339 193h1M341 193h1M343 193h1M347 193h1M270 194h2M289 194h1M291 194h2M296 194h2M301 194h2M313 194h1M315 194h2M318 194h2M322 194h3M326 194h2M329 194h1M333 194h1M335 194h1M337 194h1M339 194h1M341 194h2M272 195h1M303 195h1M306 195h1M308 195h1M310 195h2M314 195h1M320 195h4M326 195h7M335 195h1M345 195h1M272 196h1M290 196h1M292 196h1M300 196h2M303 196h1M306 196h1M309 196h1M312 196h1M319 196h3M324 196h1M326 196h5M332 196h2M335 196h4M344 196h1M347 196h1M269 197h1M271 197h2M289 197h1M292 197h1M298 197h3M302 197h1M311 197h3M317 197h4M322 197h7M330 197h5M339 197h1M343 197h1M268 198h1M272 198h1M289 198h1M296 198h3M302 198h1M305 198h1M307 198h1M311 198h2M314 198h2M317 198h1M320 198h2M323 198h2M327 198h2M331 198h3M337 198h2M346 198h1M268 199h2M272 199h1M294 199h3M298 199h1M306 199h3M311 199h2M315 199h2M319 199h2M322 199h1M329 199h1M333 199h2M338 199h1M341 199h1M267 200h5M299 200h4M304 200h1M313 200h1M315 200h2M318 200h2M321 200h1M323 200h1M325 200h1M330 200h1M332 200h1M334 200h3M338 200h1M341 200h1M343 200h1M269 201h1M271 201h1M284 201h1M301 201h2M305 201h2M309 201h1M315 201h1M318 201h1M324 201h1M327 201h1M330 201h1M338 201h1M269 202h2M274 202h2M277 202h1M291 202h1M294 202h1M299 202h2M303 202h1M306 202h1M310 202h1M312 202h1M317 202h1M320 202h3M324 202h2M327 202h1M329 202h3M338 202h1M343 202h1M267 203h1M269 203h2M275 203h1M282 203h1M287 203h1M296 203h2M299 203h1M302 203h1M306 203h1M314 203h2M318 203h1M320 203h1M322 203h1M325 203h3M335 203h1M338 203h1M341 203h1M270 204h1M272 204h1M286 204h1M301 204h1M309 204h1M312 204h2M316 204h1M322 204h1M332 204h1M334 204h1M267 205h2M272 205h1M274 205h1M279 205h1M285 205h1M297 205h1M304 205h2M309 205h1M318 205h1M323 205h4M328 205h2M333 205h2M338 205h1M340 205h1M268 206h4M275 206h2M289 206h1M291 206h1M311 206h2M317 206h4M328 206h1M268 207h1M270 207h1M279 207h1M282 207h1M286 207h1M299 207h1M308 207h1M324 207h1M326 207h1M328 207h1M330 207h2M334 207h2M337 207h1M267 208h1M269 208h4M277 208h1M280 208h1M285 208h1M291 208h2M296 208h1M311 208h1M328 208h4M336 208h1M267 209h4M278 209h2M291 209h1M298 209h1M309 209h1M312 209h1M314 209h1M322 209h1M325 209h2M329 209h1M338 209h1M268 210h1M270 210h1M272 210h1M275 210h1M282 210h1M315 210h1M317 210h1M321 210h1M326 210h1M328 210h1M331 210h1M268 211h2M271 211h1M273 211h2M277 211h1M283 211h1M289 211h1M292 211h1M312 211h1M315 211h1M324 211h1M328 211h1M335 211h1M267 212h2M270 212h3M275 212h1M277 212h1M280 212h1M283 212h1M286 212h1M288 212h1M329 212h1M270 213h3M280 213h2M284 213h1M322 213h1M328 213h2M268 214h1M270 214h2M273 214h2M278 214h1M282 214h1M268 215h1M270 215h1M272 215h1M267 216h1M269 216h1M271 216h2M276 216h1M283 216h1M285 216h2M267 217h2M270 217h1M273 217h2M284 217h1M287 217h1M268 218h5M275 218h2M278 218h1M280 218h1M267 219h8M277 219h1M284 219h1M267 220h10M278 220h2M285 220h1M267 221h6M275 221h2M278 221h1M281 221h1M285 221h1M267 222h5M273 222h4M279 222h1M287 222h1M267 223h1M269 223h4M274 223h2M277 223h4M282 223h1M267 224h11M280 224h1M283 224h1M285 224h1M287 224h1M289 224h1M267 225h1M269 225h8M278 225h1M280 225h4M285 225h3M268 226h9M278 226h1M280 226h3M285 226h3M267 227h6M274 227h1M276 227h1M278 227h1M280 227h1M282 227h2M285 227h2M267 228h1M269 228h6M278 228h2M281 228h4M288 228h2M268 229h7M276 229h2M279 229h1M269 230h6M276 230h3M282 230h1M267 231h7M275 231h1M279 231h2M282 231h3M286 231h1M289 231h1M267 232h9M278 232h2M282 232h1M267 233h8M276 233h1M281 233h1M283 233h1" transform="translate(0 0.5)" stroke="#000" stroke-width="1" fill="none" shape-rendering="crispEdges"/>
<rect x="267.5" y="131.5" width="110" height="102" fill="none" stroke="#000" stroke-width="1.1"/>
<line x1="298.5" y1="131" x2="298.5" y2="233.3" stroke="#000" stroke-width="1"/>
<line x1="267.6" y1="184.5" x2="377.8" y2="184.5" stroke="#000" stroke-width="1"/>
<path d="M267.6 233.3v2.6M267.6 233.3h-2.6M275.9 233.3v1.4M267.6 225.6h-1.4M280.7 233.3v1.4M267.6 221.1h-1.4M284.2 233.3v1.4M267.6 217.9h-1.4M286.9 233.3v1.4M267.6 215.4h-1.4M289.0 233.3v1.4M267.6 213.4h-1.4M290.9 233.3v1.4M267.6 211.7h-1.4M292.5 233.3v1.4M267.6 210.2h-1.4M293.9 233.3v1.4M267.6 208.9h-1.4M295.2 233.3v2.6M267.6 207.7h-2.6M303.4 233.3v1.4M267.6 200.0h-1.4M308.3 233.3v1.4M267.6 195.5h-1.4M311.7 233.3v1.4M267.6 192.3h-1.4M314.4 233.3v1.4M267.6 189.8h-1.4M316.6 233.3v1.4M267.6 187.8h-1.4M318.4 233.3v1.4M267.6 186.1h-1.4M320.0 233.3v1.4M267.6 184.6h-1.4M321.4 233.3v1.4M267.6 183.3h-1.4M322.7 233.3v2.6M267.6 182.2h-2.6M331.0 233.3v1.4M267.6 174.5h-1.4M335.8 233.3v1.4M267.6 169.9h-1.4M339.3 233.3v1.4M267.6 166.8h-1.4M342.0 233.3v1.4M267.6 164.3h-1.4M344.1 233.3v1.4M267.6 162.2h-1.4M346.0 233.3v1.4M267.6 160.5h-1.4M347.6 233.3v1.4M267.6 159.1h-1.4M349.0 233.3v1.4M267.6 157.7h-1.4M350.2 233.3v2.6M267.6 156.6h-2.6M358.5 233.3v1.4M267.6 148.9h-1.4M363.4 233.3v1.4M267.6 144.4h-1.4M366.8 233.3v1.4M267.6 141.2h-1.4M369.5 233.3v1.4M267.6 138.7h-1.4M371.7 233.3v1.4M267.6 136.7h-1.4M373.5 233.3v1.4M267.6 135.0h-1.4M375.1 233.3v1.4M267.6 133.5h-1.4M376.5 233.3v1.4M267.6 132.2h-1.4M377.8 233.3v2.2M267.6 131.0h-2.2" stroke="#000" stroke-width="0.75" fill="none"/>
<text x="267.3" y="242.5" font-size="7" text-anchor="middle" font-weight="normal" fill="#0a0a0a" stroke="#111" stroke-width="0.2">10<tspan dy="-0.5em" font-size="78%">0</tspan><tspan dy="0.39em" font-size="100%">&#8203;</tspan></text>
<text x="263.6" y="232.6" font-size="7" text-anchor="middle" font-weight="normal" fill="#0a0a0a" transform="rotate(-90 263.6 232.6)" stroke="#111" stroke-width="0.2">10<tspan dy="-0.5em" font-size="78%">0</tspan><tspan dy="0.39em" font-size="100%">&#8203;</tspan></text>
<text x="294.85" y="242.5" font-size="7" text-anchor="middle" font-weight="normal" fill="#0a0a0a" stroke="#111" stroke-width="0.2">10<tspan dy="-0.5em" font-size="78%">1</tspan><tspan dy="0.39em" font-size="100%">&#8203;</tspan></text>
<text x="263.6" y="207.025" font-size="7" text-anchor="middle" font-weight="normal" fill="#0a0a0a" transform="rotate(-90 263.6 207.025)" stroke="#111" stroke-width="0.2">10<tspan dy="-0.5em" font-size="78%">1</tspan><tspan dy="0.39em" font-size="100%">&#8203;</tspan></text>
<text x="322.4" y="242.5" font-size="7" text-anchor="middle" font-weight="normal" fill="#0a0a0a" stroke="#111" stroke-width="0.2">10<tspan dy="-0.5em" font-size="78%">2</tspan><tspan dy="0.39em" font-size="100%">&#8203;</tspan></text>
<text x="263.6" y="181.45" font-size="7" text-anchor="middle" font-weight="normal" fill="#0a0a0a" transform="rotate(-90 263.6 181.45)" stroke="#111" stroke-width="0.2">10<tspan dy="-0.5em" font-size="78%">2</tspan><tspan dy="0.39em" font-size="100%">&#8203;</tspan></text>
<text x="349.95" y="242.5" font-size="7" text-anchor="middle" font-weight="normal" fill="#0a0a0a" stroke="#111" stroke-width="0.2">10<tspan dy="-0.5em" font-size="78%">3</tspan><tspan dy="0.39em" font-size="100%">&#8203;</tspan></text>
<text x="263.6" y="155.875" font-size="7" text-anchor="middle" font-weight="normal" fill="#0a0a0a" transform="rotate(-90 263.6 155.875)" stroke="#111" stroke-width="0.2">10<tspan dy="-0.5em" font-size="78%">3</tspan><tspan dy="0.39em" font-size="100%">&#8203;</tspan></text>
<text x="377.5" y="242.5" font-size="7" text-anchor="middle" font-weight="normal" fill="#0a0a0a" stroke="#111" stroke-width="0.2">10<tspan dy="-0.5em" font-size="78%">4</tspan><tspan dy="0.39em" font-size="100%">&#8203;</tspan></text>
<text x="263.6" y="130.3" font-size="7" text-anchor="middle" font-weight="normal" fill="#0a0a0a" transform="rotate(-90 263.6 130.3)" stroke="#111" stroke-width="0.2">10<tspan dy="-0.5em" font-size="78%">4</tspan><tspan dy="0.39em" font-size="100%">&#8203;</tspan></text>
<text x="352.8" y="147" font-size="10.3" text-anchor="start" font-weight="normal" fill="#0a0a0a" stroke="#111" stroke-width="0.2">12.09</text>
<path d="M401 132h1M418 133h1M461 136h1M474 144h1M431 145h1M405 146h1M427 146h1M455 147h1M486 147h1M452 148h1M464 148h1M466 148h1M481 148h1M408 149h1M414 149h2M441 149h1M468 149h2M415 150h1M418 150h1M424 150h1M434 150h1M446 150h1M424 151h1M426 151h1M456 151h1M417 152h1M420 152h3M431 152h1M457 152h1M460 152h1M462 152h1M471 152h1M418 153h1M427 153h1M429 153h1M431 153h1M449 153h1M463 153h1M466 153h1M470 153h1M474 153h1M423 154h1M433 154h1M447 154h1M452 154h1M469 154h1M471 154h1M498 154h1M432 155h1M439 155h1M461 155h1M471 155h1M477 155h1M488 155h1M499 155h1M429 156h1M441 156h1M476 156h1M427 157h1M483 157h1M486 157h1M500 157h1M420 158h1M422 158h1M491 158h1M495 158h1M427 159h1M419 160h1M426 160h1M487 160h1M500 160h1M427 161h1M478 161h1M486 161h1M419 162h1M421 163h1M425 163h2M477 163h2M498 163h1M425 165h1M427 165h1M497 165h1M478 166h1M485 166h1M427 167h1M504 167h1M421 168h1M425 168h1M489 168h1M420 169h2M436 169h1M440 169h1M445 169h1M453 169h1M457 169h1M460 169h2M503 169h1M423 170h1M430 170h1M448 170h1M458 170h1M460 170h3M469 170h1M477 170h1M480 170h1M433 171h1M448 171h1M451 171h1M457 171h1M467 171h2M471 171h1M475 171h1M493 171h1M496 171h1M420 172h1M423 172h1M426 172h1M433 172h1M448 172h1M460 172h2M485 172h1M496 172h1M504 172h1M420 173h1M429 173h1M431 173h1M435 173h1M438 173h1M442 173h1M445 173h1M447 173h1M450 173h1M455 173h1M463 173h1M467 173h1M431 174h1M433 174h1M436 174h1M443 174h1M446 174h1M451 174h1M465 174h1M478 174h1M485 174h1M441 175h1M444 175h1M455 175h1M463 175h1M468 175h1M490 175h2M429 176h1M442 176h1M444 176h1M446 176h1M455 176h1M467 176h1M472 176h1M494 176h1M431 177h1M440 177h1M442 177h1M460 177h1M462 177h1M464 177h1M469 177h1M476 177h1M500 177h1M421 178h1M425 178h1M428 178h1M437 178h1M464 178h1M468 178h1M483 178h1M493 178h1M500 178h1M422 179h1M426 179h1M430 179h1M434 179h1M451 179h1M454 179h1M459 179h1M461 179h1M473 179h1M424 180h1M426 180h1M439 180h1M456 180h1M493 180h1M422 181h1M424 181h1M427 181h1M444 181h1M454 181h1M467 181h1M473 181h1M501 181h1M423 182h1M430 182h1M434 182h1M437 182h1M443 182h1M465 182h1M427 183h1M429 183h1M451 183h1M463 183h1M465 183h1M481 183h1M489 183h2M423 184h1M428 184h1M431 184h1M449 184h2M487 184h1M491 184h1M419 185h2M433 185h1M436 185h1M450 185h1M468 185h1M476 185h1M484 185h1M487 185h1M417 186h1M427 186h1M434 186h1M441 186h1M493 186h1M415 187h1M421 187h2M438 187h1M449 187h1M451 187h1M481 187h1M414 188h1M422 189h1M433 189h2M470 189h1M476 189h1M481 189h1M483 189h1M485 189h1M415 190h1M450 190h1M500 190h1M442 191h1M480 191h1M488 191h1M504 191h1M441 192h1M490 192h1M496 192h1M413 193h1M416 193h1M451 193h1M455 194h1M461 194h1M502 194h1M414 195h1M447 195h1M454 195h1M469 195h1M484 195h1M413 196h1M417 196h1M464 196h1M468 196h1M419 197h2M439 197h1M447 197h1M461 197h1M467 197h2M494 197h1M457 198h1M467 198h1M477 198h1M415 199h1M421 199h1M418 200h1M469 200h1M476 200h1M480 200h2M417 201h1M419 201h1M433 201h1M416 202h1M427 203h1M465 203h1M415 204h2M451 204h1M420 205h1M425 205h1M442 205h1M457 205h1M462 205h1M445 206h1M462 206h1M414 207h1M433 207h1M434 208h1M448 208h1M420 209h1M422 209h2M413 210h1M416 210h1M423 210h1M451 210h1M461 210h1M470 210h1M412 211h1M409 212h1M415 212h1M446 212h1M410 213h1M415 213h1M420 213h1M439 213h1M404 214h1M407 214h1M409 214h2M412 214h1M434 214h1M442 214h1M473 214h1M501 214h1M405 215h1M432 215h1M441 215h1M470 215h1M405 216h1M419 216h1M427 216h1M434 216h1M452 216h1M410 217h1M420 217h1M426 217h1M458 217h1M419 218h1M423 218h1M438 218h1M411 219h1M415 219h1M428 219h1M434 219h1M449 219h1M454 219h1M405 220h1M409 220h1M450 220h1M452 220h1M462 220h1M402 221h2M410 221h1M417 221h1M439 221h1M445 221h1M447 221h1M402 222h1M416 222h1M402 223h1M404 223h1M467 223h1M410 224h1M414 224h2M466 224h1M411 225h1M433 225h1M403 226h3M426 226h1M433 226h1M440 226h1M455 226h1M411 227h1M414 227h1M418 227h1M437 227h1M447 227h1M455 227h1M474 227h1M424 228h1M440 228h1M500 228h1M413 229h1M451 229h1M410 230h1M413 230h1M418 230h1M433 230h1M437 230h1M465 230h1M403 231h1M406 231h1M414 231h2M419 231h2M423 231h1M426 231h1M439 231h1M461 231h1M465 231h1M406 232h1M414 232h1M440 232h1" transform="translate(0 0.5)" stroke="#555" stroke-width="1" fill="none" shape-rendering="crispEdges"/>
<path d="M398 149h1M400 150h1M404 150h1M396 151h2M402 151h2M396 152h1M398 152h2M407 152h1M409 152h1M415 152h1M396 153h2M399 153h1M403 153h2M407 153h2M410 153h1M397 154h3M406 154h3M397 155h1M399 155h2M402 155h1M405 155h1M410 155h2M400 156h1M404 156h1M406 156h1M409 156h2M417 156h1M446 156h1M451 156h1M468 156h1M396 157h1M398 157h3M404 157h1M438 157h1M443 157h2M448 157h1M450 157h1M452 157h1M455 157h1M459 157h1M461 157h1M468 157h1M471 157h2M475 157h1M397 158h3M409 158h1M415 158h2M433 158h1M436 158h1M438 158h2M446 158h1M448 158h2M452 158h1M454 158h1M459 158h1M461 158h3M467 158h1M470 158h1M474 158h1M396 159h2M399 159h1M403 159h1M407 159h4M412 159h1M433 159h2M437 159h2M442 159h3M446 159h2M449 159h1M451 159h4M457 159h2M460 159h2M468 159h3M473 159h1M396 160h4M405 160h1M407 160h1M409 160h1M412 160h1M417 160h1M435 160h3M439 160h1M441 160h1M444 160h1M446 160h1M449 160h6M456 160h2M459 160h3M463 160h2M466 160h1M469 160h2M473 160h2M396 161h8M407 161h1M409 161h2M413 161h1M430 161h2M433 161h3M437 161h1M442 161h4M449 161h1M451 161h2M455 161h2M458 161h8M467 161h1M470 161h1M472 161h1M396 162h2M399 162h2M402 162h1M406 162h1M412 162h3M416 162h1M418 162h1M429 162h1M432 162h1M434 162h1M436 162h8M445 162h17M465 162h4M471 162h2M474 162h1M396 163h4M403 163h1M406 163h1M409 163h1M411 163h1M430 163h3M435 163h2M438 163h1M441 163h1M446 163h1M448 163h1M450 163h6M458 163h6M466 163h1M468 163h2M471 163h1M473 163h1M397 164h3M401 164h1M403 164h1M413 164h1M429 164h1M431 164h1M433 164h2M436 164h2M441 164h1M444 164h9M454 164h2M457 164h3M461 164h1M463 164h6M470 164h3M474 164h2M396 165h4M402 165h5M409 165h1M415 165h1M417 165h2M431 165h1M433 165h2M436 165h1M439 165h2M443 165h3M448 165h2M454 165h7M462 165h3M466 165h6M474 165h1M397 166h1M399 166h2M402 166h2M405 166h1M413 166h1M418 166h1M429 166h2M432 166h1M442 166h1M445 166h1M448 166h3M453 166h1M457 166h1M462 166h1M465 166h2M470 166h1M475 166h1M397 167h1M400 167h2M407 167h1M412 167h1M417 167h1M429 167h1M431 167h1M435 167h1M443 167h1M446 167h1M462 167h3M469 167h4M474 167h1M396 168h3M401 168h2M405 168h1M409 168h3M413 168h2M431 168h1M434 168h1M444 168h1M455 168h1M462 168h1M474 168h1M396 169h4M402 169h1M404 169h2M409 169h1M419 169h1M396 170h1M398 170h1M400 170h1M411 170h1M396 171h4M401 171h3M405 171h1M408 171h4M415 171h1M396 172h4M404 172h3M408 172h1M412 172h1M415 172h1M417 172h1M396 173h2M399 173h1M401 173h2M406 173h1M412 173h1M414 173h1M396 174h4M401 174h1M404 174h2M408 174h1M410 174h3M417 174h1M396 175h2M400 175h3M408 175h1M415 175h1M396 176h1M398 176h3M402 176h1M405 176h1M416 176h1M419 176h1M397 177h4M402 177h2M406 177h4M414 177h2M396 178h7M405 178h3M409 178h1M411 178h1M413 178h2M416 178h1M396 179h6M410 179h1M415 179h2M396 180h6M403 180h3M407 180h4M416 180h1M419 180h1M396 181h1M399 181h2M403 181h3M407 181h1M409 181h1M413 181h1M415 181h1M418 181h1M398 182h3M405 182h2M413 182h2M396 183h7M404 183h3M409 183h1M411 183h1M396 184h3M406 184h1M408 184h2M417 184h1M396 185h5M402 185h2M408 185h1M410 185h2M396 186h2M399 186h1M401 186h2M404 186h4M396 187h3M405 187h1M409 187h1M396 188h2M401 188h1M396 189h4M405 189h1M408 189h1M412 189h1M396 190h3M406 190h1M408 190h1M396 191h2M400 191h1M402 191h1M407 191h1M409 191h1M396 192h5M402 192h1M405 192h1M409 192h2M396 193h3M406 193h2M397 194h2M400 194h2M405 194h1M407 194h1M409 194h1M398 195h3M396 196h2M401 196h3M407 196h1M397 197h5M404 197h3M397 198h3M402 198h1M404 198h1M409 198h1M396 199h2M399 199h1M401 199h1M409 199h2M396 200h5M402 200h1M405 200h3M412 200h1M397 201h1M399 201h1M401 201h1M404 201h1M406 201h2M409 201h1M396 202h1M398 202h3M405 202h1M407 202h2M396 203h1M400 203h2M396 204h4M396 205h3M401 205h1M404 205h2M410 205h1M412 205h1M414 205h1M396 206h1M398 206h1M404 206h1M408 206h1M410 206h2M397 207h1M396 208h1M399 208h1M402 208h1M404 208h1M396 209h1M398 209h1M401 209h1M403 209h2M407 209h1M397 210h1M401 210h1M396 211h2M399 211h2M402 211h1M407 211h1M409 211h2M396 212h2M399 213h2M397 214h3M396 215h2M398 216h1M400 216h1M396 217h3M398 218h1M397 219h2M400 219h1M396 220h1M398 220h1M398 221h1M400 221h1M396 222h1M398 222h3M396 223h1M400 223h1M398 224h1M400 224h2M397 226h3M401 226h1M396 227h1M397 228h3M398 229h3M396 230h1M399 230h1M398 231h1M400 231h1M397 232h1" transform="translate(0 0.5)" stroke="#000" stroke-width="1" fill="none" shape-rendering="crispEdges"/>
<rect x="396.5" y="131.5" width="109" height="101" fill="none" stroke="#000" stroke-width="1.1"/>
<line x1="426.5" y1="131.4" x2="426.5" y2="232.6" stroke="#000" stroke-width="1"/>
<line x1="396" y1="184.5" x2="505" y2="184.5" stroke="#000" stroke-width="1"/>
<rect x="420.5" y="137.5" width="27" height="48" fill="none" stroke="#000" stroke-width="1.15"/>
<path d="M396.0 232.6v2.6M396.0 232.6h-2.6M404.2 232.6v1.4M396.0 225.0h-1.4M409.0 232.6v1.4M396.0 220.5h-1.4M412.4 232.6v1.4M396.0 217.4h-1.4M415.0 232.6v1.4M396.0 214.9h-1.4M417.2 232.6v1.4M396.0 212.9h-1.4M419.0 232.6v1.4M396.0 211.2h-1.4M420.6 232.6v1.4M396.0 209.8h-1.4M422.0 232.6v1.4M396.0 208.5h-1.4M423.2 232.6v2.6M396.0 207.3h-2.6M431.5 232.6v1.4M396.0 199.7h-1.4M436.3 232.6v1.4M396.0 195.2h-1.4M439.7 232.6v1.4M396.0 192.1h-1.4M442.3 232.6v1.4M396.0 189.6h-1.4M444.5 232.6v1.4M396.0 187.6h-1.4M446.3 232.6v1.4M396.0 185.9h-1.4M447.9 232.6v1.4M396.0 184.5h-1.4M449.3 232.6v1.4M396.0 183.2h-1.4M450.5 232.6v2.6M396.0 182.0h-2.6M458.7 232.6v1.4M396.0 174.4h-1.4M463.5 232.6v1.4M396.0 169.9h-1.4M466.9 232.6v1.4M396.0 166.8h-1.4M469.5 232.6v1.4M396.0 164.3h-1.4M471.7 232.6v1.4M396.0 162.3h-1.4M473.5 232.6v1.4M396.0 160.6h-1.4M475.1 232.6v1.4M396.0 159.2h-1.4M476.5 232.6v1.4M396.0 157.9h-1.4M477.8 232.6v2.6M396.0 156.7h-2.6M486.0 232.6v1.4M396.0 149.1h-1.4M490.8 232.6v1.4M396.0 144.6h-1.4M494.2 232.6v1.4M396.0 141.5h-1.4M496.8 232.6v1.4M396.0 139.0h-1.4M499.0 232.6v1.4M396.0 137.0h-1.4M500.8 232.6v1.4M396.0 135.3h-1.4M502.4 232.6v1.4M396.0 133.9h-1.4M503.8 232.6v1.4M396.0 132.6h-1.4M505.0 232.6v2.2M396.0 131.4h-2.2" stroke="#000" stroke-width="0.75" fill="none"/>
<text x="395.7" y="241.8" font-size="7" text-anchor="middle" font-weight="normal" fill="#0a0a0a" stroke="#111" stroke-width="0.2">10<tspan dy="-0.5em" font-size="78%">0</tspan><tspan dy="0.39em" font-size="100%">&#8203;</tspan></text>
<text x="392" y="231.9" font-size="7" text-anchor="middle" font-weight="normal" fill="#0a0a0a" transform="rotate(-90 392 231.9)" stroke="#111" stroke-width="0.2">10<tspan dy="-0.5em" font-size="78%">0</tspan><tspan dy="0.39em" font-size="100%">&#8203;</tspan></text>
<text x="422.95" y="241.8" font-size="7" text-anchor="middle" font-weight="normal" fill="#0a0a0a" stroke="#111" stroke-width="0.2">10<tspan dy="-0.5em" font-size="78%">1</tspan><tspan dy="0.39em" font-size="100%">&#8203;</tspan></text>
<text x="392" y="206.6" font-size="7" text-anchor="middle" font-weight="normal" fill="#0a0a0a" transform="rotate(-90 392 206.6)" stroke="#111" stroke-width="0.2">10<tspan dy="-0.5em" font-size="78%">1</tspan><tspan dy="0.39em" font-size="100%">&#8203;</tspan></text>
<text x="450.2" y="241.8" font-size="7" text-anchor="middle" font-weight="normal" fill="#0a0a0a" stroke="#111" stroke-width="0.2">10<tspan dy="-0.5em" font-size="78%">2</tspan><tspan dy="0.39em" font-size="100%">&#8203;</tspan></text>
<text x="392" y="181.3" font-size="7" text-anchor="middle" font-weight="normal" fill="#0a0a0a" transform="rotate(-90 392 181.3)" stroke="#111" stroke-width="0.2">10<tspan dy="-0.5em" font-size="78%">2</tspan><tspan dy="0.39em" font-size="100%">&#8203;</tspan></text>
<text x="477.45" y="241.8" font-size="7" text-anchor="middle" font-weight="normal" fill="#0a0a0a" stroke="#111" stroke-width="0.2">10<tspan dy="-0.5em" font-size="78%">3</tspan><tspan dy="0.39em" font-size="100%">&#8203;</tspan></text>
<text x="392" y="156" font-size="7" text-anchor="middle" font-weight="normal" fill="#0a0a0a" transform="rotate(-90 392 156)" stroke="#111" stroke-width="0.2">10<tspan dy="-0.5em" font-size="78%">3</tspan><tspan dy="0.39em" font-size="100%">&#8203;</tspan></text>
<text x="504.7" y="241.8" font-size="7" text-anchor="middle" font-weight="normal" fill="#0a0a0a" stroke="#111" stroke-width="0.2">10<tspan dy="-0.5em" font-size="78%">4</tspan><tspan dy="0.39em" font-size="100%">&#8203;</tspan></text>
<text x="392" y="130.7" font-size="7" text-anchor="middle" font-weight="normal" fill="#0a0a0a" transform="rotate(-90 392 130.7)" stroke="#111" stroke-width="0.2">10<tspan dy="-0.5em" font-size="78%">4</tspan><tspan dy="0.39em" font-size="100%">&#8203;</tspan></text>
<text x="427.6" y="147.3" font-size="10.3" text-anchor="start" font-weight="normal" fill="#0a0a0a" stroke="#111" stroke-width="0.2">4.3</text>
<text x="438.5" y="179.5" font-size="4.6" text-anchor="start" font-weight="bold" fill="#0a0a0a">R5</text>
</g>
<g id="panelBC">
<text x="-0.9" y="311" font-size="17.3" text-anchor="start" font-weight="bold" fill="#0a0a0a">B</text>
<text x="-0.5" y="492.8" font-size="17.6" text-anchor="start" font-weight="bold" fill="#0a0a0a">C</text>
<rect x="51.3" y="320.5" width="124.7" height="104.2" fill="none" stroke="#9c9c9c" stroke-width="0.8"/>
<rect x="62.8" y="417.5" width="39.6" height="7.2" fill="#404040"/>
<rect x="124.7" y="354.4" width="39.1" height="70.3" fill="#404040"/>
<line x1="51.3" y1="320.5" x2="51.3" y2="424.7" stroke="#777" stroke-width="0.8"/>
<line x1="51.3" y1="424.7" x2="176" y2="424.7" stroke="#555" stroke-width="0.9"/>
<line x1="49.3" y1="320.5" x2="51.3" y2="320.5" stroke="#666" stroke-width="0.7"/>
<text x="45.6" y="323" font-size="7.2" text-anchor="end" font-weight="normal" fill="#0a0a0a" stroke="#111" stroke-width="0.22">2.5</text>
<line x1="49.3" y1="341.3" x2="51.3" y2="341.3" stroke="#666" stroke-width="0.7"/>
<text x="45.6" y="343.8" font-size="7.2" text-anchor="end" font-weight="normal" fill="#0a0a0a" stroke="#111" stroke-width="0.22">2</text>
<line x1="49.3" y1="362.1" x2="51.3" y2="362.1" stroke="#666" stroke-width="0.7"/>
<text x="45.6" y="364.6" font-size="7.2" text-anchor="end" font-weight="normal" fill="#0a0a0a" stroke="#111" stroke-width="0.22">1.5</text>
<line x1="49.3" y1="383" x2="51.3" y2="383" stroke="#666" stroke-width="0.7"/>
<text x="45.6" y="385.5" font-size="7.2" text-anchor="end" font-weight="normal" fill="#0a0a0a" stroke="#111" stroke-width="0.22">1</text>
<line x1="49.3" y1="403.8" x2="51.3" y2="403.8" stroke="#666" stroke-width="0.7"/>
<text x="45.6" y="406.3" font-size="7.2" text-anchor="end" font-weight="normal" fill="#0a0a0a" stroke="#111" stroke-width="0.22">0.5</text>
<line x1="49.3" y1="424.7" x2="51.3" y2="424.7" stroke="#666" stroke-width="0.7"/>
<text x="45.6" y="427.2" font-size="7.2" text-anchor="end" font-weight="normal" fill="#0a0a0a" stroke="#111" stroke-width="0.22">0</text>
<line x1="51.3" y1="424.7" x2="51.3" y2="426.7" stroke="#666" stroke-width="0.7"/>
<line x1="113.65" y1="424.7" x2="113.65" y2="426.7" stroke="#666" stroke-width="0.7"/>
<line x1="176" y1="424.7" x2="176" y2="426.7" stroke="#666" stroke-width="0.7"/>
<line x1="82.4" y1="415" x2="82.4" y2="420" stroke="#222" stroke-width="0.7"/>
<line x1="81.4" y1="415" x2="83.4" y2="415" stroke="#222" stroke-width="0.6"/>
<line x1="81.4" y1="420" x2="83.4" y2="420" stroke="#222" stroke-width="0.6"/>
<line x1="144" y1="343.3" x2="144" y2="366.5" stroke="#222" stroke-width="0.7"/>
<line x1="143" y1="343.3" x2="145" y2="343.3" stroke="#222" stroke-width="0.6"/>
<line x1="143" y1="366.5" x2="145" y2="366.5" stroke="#222" stroke-width="0.6"/>
<text x="82.4" y="437.2" font-size="7" text-anchor="middle" font-weight="normal" fill="#0a0a0a" stroke="#111" stroke-width="0.22">MSCV-GFP</text>
<text x="144.7" y="437.2" font-size="7" text-anchor="middle" font-weight="normal" fill="#0a0a0a" stroke="#111" stroke-width="0.22">MSCV-ICN/GFP</text>
<text x="104.6" y="306.3" font-size="8" text-anchor="middle" font-weight="bold" fill="#0a0a0a" stroke="#111" stroke-width="0.2">Sca1<tspan dy="-0.4em" font-size="62%">+</tspan><tspan dy="0.248em" font-size="100%">&#8203;</tspan>lin<tspan dy="-0.4em" font-size="62%">-</tspan><tspan dy="0.248em" font-size="100%">&#8203;</tspan></text>
<text x="30.792" y="372.5" font-size="7.2" text-anchor="middle" font-weight="bold" fill="#0a0a0a" transform="rotate(-90 30.792 372.5)" stroke="#111" stroke-width="0.15">% in GFP<tspan dy="-0.4em" font-size="62%">+</tspan><tspan dy="0.248em" font-size="100%">&#8203;</tspan>Ly5.2<tspan dy="-0.4em" font-size="62%">+</tspan><tspan dy="0.248em" font-size="100%">&#8203;</tspan> bone marrow</text>
<text x="142.6" y="343.46" font-size="15.5" text-anchor="middle" font-weight="bold" fill="#0a0a0a">*</text>
<rect x="232" y="319" width="122.8" height="104" fill="none" stroke="#9c9c9c" stroke-width="0.8"/>
<rect x="244" y="403.6" width="38" height="19.4" fill="#404040"/>
<rect x="304.6" y="361.3" width="38.8" height="61.7" fill="#404040"/>
<line x1="232" y1="319" x2="232" y2="423" stroke="#777" stroke-width="0.8"/>
<line x1="232" y1="423" x2="354.8" y2="423" stroke="#555" stroke-width="0.9"/>
<line x1="230" y1="319" x2="232" y2="319" stroke="#666" stroke-width="0.7"/>
<text x="226.7" y="321.5" font-size="7.2" text-anchor="end" font-weight="normal" fill="#0a0a0a" stroke="#111" stroke-width="0.22">25</text>
<line x1="230" y1="339.8" x2="232" y2="339.8" stroke="#666" stroke-width="0.7"/>
<text x="226.7" y="342.3" font-size="7.2" text-anchor="end" font-weight="normal" fill="#0a0a0a" stroke="#111" stroke-width="0.22">20</text>
<line x1="230" y1="360.6" x2="232" y2="360.6" stroke="#666" stroke-width="0.7"/>
<text x="226.7" y="363.1" font-size="7.2" text-anchor="end" font-weight="normal" fill="#0a0a0a" stroke="#111" stroke-width="0.22">15</text>
<line x1="230" y1="381.4" x2="232" y2="381.4" stroke="#666" stroke-width="0.7"/>
<text x="226.7" y="383.9" font-size="7.2" text-anchor="end" font-weight="normal" fill="#0a0a0a" stroke="#111" stroke-width="0.22">10</text>
<line x1="230" y1="402.2" x2="232" y2="402.2" stroke="#666" stroke-width="0.7"/>
<text x="226.7" y="404.7" font-size="7.2" text-anchor="end" font-weight="normal" fill="#0a0a0a" stroke="#111" stroke-width="0.22">5</text>
<line x1="230" y1="423" x2="232" y2="423" stroke="#666" stroke-width="0.7"/>
<text x="226.7" y="425.5" font-size="7.2" text-anchor="end" font-weight="normal" fill="#0a0a0a" stroke="#111" stroke-width="0.22">0</text>
<line x1="232" y1="423" x2="232" y2="425" stroke="#666" stroke-width="0.7"/>
<line x1="293.4" y1="423" x2="293.4" y2="425" stroke="#666" stroke-width="0.7"/>
<line x1="354.8" y1="423" x2="354.8" y2="425" stroke="#666" stroke-width="0.7"/>
<line x1="263" y1="400" x2="263" y2="406.3" stroke="#222" stroke-width="0.7"/>
<line x1="262" y1="400" x2="264" y2="400" stroke="#222" stroke-width="0.6"/>
<line x1="262" y1="406.3" x2="264" y2="406.3" stroke="#222" stroke-width="0.6"/>
<line x1="324" y1="350.3" x2="324" y2="371.7" stroke="#222" stroke-width="0.7"/>
<line x1="323" y1="350.3" x2="325" y2="350.3" stroke="#222" stroke-width="0.6"/>
<line x1="323" y1="371.7" x2="325" y2="371.7" stroke="#222" stroke-width="0.6"/>
<text x="263" y="435.8" font-size="7" text-anchor="middle" font-weight="normal" fill="#0a0a0a" stroke="#111" stroke-width="0.22">MSCV-GFP</text>
<text x="324.7" y="435.8" font-size="7" text-anchor="middle" font-weight="normal" fill="#0a0a0a" stroke="#111" stroke-width="0.22">MSCV-ICN/GFP</text>
<text x="287.6" y="306.3" font-size="8" text-anchor="middle" font-weight="bold" fill="#0a0a0a" stroke="#111" stroke-width="0.2">Sca1<tspan dy="-0.4em" font-size="62%">+</tspan><tspan dy="0.248em" font-size="100%">&#8203;</tspan>c-kit<tspan dy="-0.4em" font-size="62%">+</tspan><tspan dy="0.248em" font-size="100%">&#8203;</tspan></text>
<text x="214.392" y="370.5" font-size="7.2" text-anchor="middle" font-weight="bold" fill="#0a0a0a" transform="rotate(-90 214.392 370.5)" stroke="#111" stroke-width="0.15">% in GFP<tspan dy="-0.4em" font-size="62%">+</tspan><tspan dy="0.248em" font-size="100%">&#8203;</tspan>Ly5.2<tspan dy="-0.4em" font-size="62%">+</tspan><tspan dy="0.248em" font-size="100%">&#8203;</tspan> bone marrow</text>
<text x="321.6" y="346.56" font-size="15.5" text-anchor="middle" font-weight="bold" fill="#0a0a0a">*</text>
<rect x="395" y="318.5" width="120.8" height="102.4" fill="none" stroke="#9c9c9c" stroke-width="0.8"/>
<rect x="405.8" y="407.4" width="38.7" height="13.5" fill="#404040"/>
<rect x="466.3" y="359.6" width="38.1" height="61.3" fill="#404040"/>
<line x1="395" y1="318.5" x2="395" y2="420.9" stroke="#777" stroke-width="0.8"/>
<line x1="395" y1="420.9" x2="515.8" y2="420.9" stroke="#555" stroke-width="0.9"/>
<line x1="393" y1="318" x2="395" y2="318" stroke="#666" stroke-width="0.7"/>
<text x="389.5" y="320.5" font-size="7.2" text-anchor="end" font-weight="normal" fill="#0a0a0a" stroke="#111" stroke-width="0.22">25</text>
<line x1="393" y1="338.6" x2="395" y2="338.6" stroke="#666" stroke-width="0.7"/>
<text x="389.5" y="341.1" font-size="7.2" text-anchor="end" font-weight="normal" fill="#0a0a0a" stroke="#111" stroke-width="0.22">20</text>
<line x1="393" y1="359.2" x2="395" y2="359.2" stroke="#666" stroke-width="0.7"/>
<text x="389.5" y="361.7" font-size="7.2" text-anchor="end" font-weight="normal" fill="#0a0a0a" stroke="#111" stroke-width="0.22">15</text>
<line x1="393" y1="379.7" x2="395" y2="379.7" stroke="#666" stroke-width="0.7"/>
<text x="389.5" y="382.2" font-size="7.2" text-anchor="end" font-weight="normal" fill="#0a0a0a" stroke="#111" stroke-width="0.22">10</text>
<line x1="393" y1="400.3" x2="395" y2="400.3" stroke="#666" stroke-width="0.7"/>
<text x="389.5" y="402.8" font-size="7.2" text-anchor="end" font-weight="normal" fill="#0a0a0a" stroke="#111" stroke-width="0.22">5</text>
<line x1="393" y1="420.9" x2="395" y2="420.9" stroke="#666" stroke-width="0.7"/>
<text x="389.5" y="423.4" font-size="7.2" text-anchor="end" font-weight="normal" fill="#0a0a0a" stroke="#111" stroke-width="0.22">0</text>
<line x1="395" y1="420.9" x2="395" y2="422.9" stroke="#666" stroke-width="0.7"/>
<line x1="455.4" y1="420.9" x2="455.4" y2="422.9" stroke="#666" stroke-width="0.7"/>
<line x1="515.8" y1="420.9" x2="515.8" y2="422.9" stroke="#666" stroke-width="0.7"/>
<line x1="425" y1="404.6" x2="425" y2="410.8" stroke="#222" stroke-width="0.7"/>
<line x1="424" y1="404.6" x2="426" y2="404.6" stroke="#222" stroke-width="0.6"/>
<line x1="424" y1="410.8" x2="426" y2="410.8" stroke="#222" stroke-width="0.6"/>
<line x1="485.4" y1="340.6" x2="485.4" y2="380.4" stroke="#222" stroke-width="0.7"/>
<line x1="484.4" y1="340.6" x2="486.4" y2="340.6" stroke="#222" stroke-width="0.6"/>
<line x1="484.4" y1="380.4" x2="486.4" y2="380.4" stroke="#222" stroke-width="0.6"/>
<text x="424.8" y="433.8" font-size="7" text-anchor="middle" font-weight="normal" fill="#0a0a0a" stroke="#111" stroke-width="0.22">MSCV-GFP</text>
<text x="485.4" y="433.8" font-size="7" text-anchor="middle" font-weight="normal" fill="#0a0a0a" stroke="#111" stroke-width="0.22">MSCV-ICN/GFP</text>
<text x="450.6" y="306.3" font-size="8" text-anchor="middle" font-weight="bold" fill="#0a0a0a" stroke="#111" stroke-width="0.2">c-kit<tspan dy="-0.4em" font-size="62%">+</tspan><tspan dy="0.248em" font-size="100%">&#8203;</tspan>Thy1<tspan dy="-0.4em" font-size="62%">low</tspan><tspan dy="0.248em" font-size="100%">&#8203;</tspan></text>
<text x="377.192" y="369" font-size="7.2" text-anchor="middle" font-weight="bold" fill="#0a0a0a" transform="rotate(-90 377.192 369)" stroke="#111" stroke-width="0.15">% in GFP<tspan dy="-0.4em" font-size="62%">+</tspan><tspan dy="0.248em" font-size="100%">&#8203;</tspan>Ly5.2<tspan dy="-0.4em" font-size="62%">+</tspan><tspan dy="0.248em" font-size="100%">&#8203;</tspan> bone marrow</text>
<text x="484.3" y="336.26" font-size="15.5" text-anchor="middle" font-weight="bold" fill="#0a0a0a">*</text>
<rect x="50.9" y="503" width="124.9" height="94.1" fill="none" stroke="#9c9c9c" stroke-width="0.8"/>
<rect x="62.8" y="593" width="39.6" height="4.1" fill="#404040"/>
<rect x="125" y="530.7" width="39.2" height="66.4" fill="#404040"/>
<line x1="50.9" y1="503" x2="50.9" y2="597.1" stroke="#777" stroke-width="0.8"/>
<line x1="50.9" y1="597.1" x2="175.8" y2="597.1" stroke="#555" stroke-width="0.9"/>
<line x1="48.9" y1="503" x2="50.9" y2="503" stroke="#666" stroke-width="0.7"/>
<text x="46.7" y="505.5" font-size="7" text-anchor="end" font-weight="normal" fill="#0a0a0a" stroke="#111" stroke-width="0.22">90000</text>
<line x1="48.9" y1="534.4" x2="50.9" y2="534.4" stroke="#666" stroke-width="0.7"/>
<text x="46.7" y="536.9" font-size="7" text-anchor="end" font-weight="normal" fill="#0a0a0a" stroke="#111" stroke-width="0.22">60000</text>
<line x1="48.9" y1="565.7" x2="50.9" y2="565.7" stroke="#666" stroke-width="0.7"/>
<text x="46.7" y="568.2" font-size="7" text-anchor="end" font-weight="normal" fill="#0a0a0a" stroke="#111" stroke-width="0.22">30000</text>
<line x1="48.9" y1="597.1" x2="50.9" y2="597.1" stroke="#666" stroke-width="0.7"/>
<text x="46.7" y="599.6" font-size="7" text-anchor="end" font-weight="normal" fill="#0a0a0a" stroke="#111" stroke-width="0.22">0</text>
<line x1="50.9" y1="597.1" x2="50.9" y2="599.1" stroke="#666" stroke-width="0.7"/>
<line x1="113.35" y1="597.1" x2="113.35" y2="599.1" stroke="#666" stroke-width="0.7"/>
<line x1="175.8" y1="597.1" x2="175.8" y2="599.1" stroke="#666" stroke-width="0.7"/>
<line x1="82.4" y1="592.3" x2="82.4" y2="593" stroke="#222" stroke-width="0.7"/>
<line x1="81.4" y1="592.3" x2="83.4" y2="592.3" stroke="#222" stroke-width="0.6"/>
<line x1="81.4" y1="593" x2="83.4" y2="593" stroke="#222" stroke-width="0.6"/>
<line x1="144.7" y1="508.2" x2="144.7" y2="530.7" stroke="#222" stroke-width="0.7"/>
<line x1="143.7" y1="508.2" x2="145.7" y2="508.2" stroke="#222" stroke-width="0.6"/>
<line x1="143.7" y1="530.7" x2="145.7" y2="530.7" stroke="#222" stroke-width="0.6"/>
<text x="82.4" y="611.7" font-size="7" text-anchor="middle" font-weight="normal" fill="#0a0a0a" stroke="#111" stroke-width="0.22">MSCV-GFP</text>
<text x="145.4" y="611.7" font-size="7" text-anchor="middle" font-weight="normal" fill="#0a0a0a" stroke="#111" stroke-width="0.22">MSCV-ICN/GFP</text>
<text x="105.1" y="487.4" font-size="8" text-anchor="middle" font-weight="bold" fill="#0a0a0a" stroke="#111" stroke-width="0.2">Sca1<tspan dy="-0.4em" font-size="62%">+</tspan><tspan dy="0.248em" font-size="100%">&#8203;</tspan>lin<tspan dy="-0.4em" font-size="62%">-</tspan><tspan dy="0.248em" font-size="100%">&#8203;</tspan></text>
<text x="15.828" y="550.3" font-size="7.3" text-anchor="middle" font-weight="bold" fill="#0a0a0a" transform="rotate(-90 15.828 550.3)" textLength="93.5" lengthAdjust="spacingAndGlyphs" stroke="#111" stroke-width="0.15">total Sca1 <tspan dy="-0.4em" font-size="62%">+</tspan><tspan dy="0.248em" font-size="100%">&#8203;</tspan>lin<tspan dy="-0.4em" font-size="62%">-</tspan><tspan dy="0.248em" font-size="100%">&#8203;</tspan>GFP<tspan dy="-0.4em" font-size="62%">+</tspan><tspan dy="0.248em" font-size="100%">&#8203;</tspan>Ly5.2<tspan dy="-0.4em" font-size="62%">+</tspan><tspan dy="0.248em" font-size="100%">&#8203;</tspan></text>
<text x="25.128" y="549.5" font-size="7.3" text-anchor="middle" font-weight="bold" fill="#0a0a0a" transform="rotate(-90 25.128 549.5)" textLength="41" lengthAdjust="spacingAndGlyphs" stroke="#111" stroke-width="0.15">bone marrow</text>
<text x="137.8" y="519.34" font-size="19.5" text-anchor="middle" font-weight="bold" fill="#0a0a0a">*</text>
<rect x="241" y="497.8" width="105.2" height="103.5" fill="none" stroke="#9c9c9c" stroke-width="0.8"/>
<rect x="251.3" y="586.7" width="33.7" height="14.6" fill="#404040"/>
<rect x="304" y="538.3" width="33.9" height="63" fill="#404040"/>
<line x1="241" y1="497.8" x2="241" y2="601.3" stroke="#777" stroke-width="0.8"/>
<line x1="241" y1="601.3" x2="346.2" y2="601.3" stroke="#555" stroke-width="0.9"/>
<line x1="239" y1="497.8" x2="241" y2="497.8" stroke="#666" stroke-width="0.7"/>
<text x="235.8" y="500.3" font-size="7.5" text-anchor="end" font-weight="normal" fill="#0a0a0a" stroke="#111" stroke-width="0.22">900000</text>
<line x1="239" y1="532.3" x2="241" y2="532.3" stroke="#666" stroke-width="0.7"/>
<text x="235.8" y="534.8" font-size="7.5" text-anchor="end" font-weight="normal" fill="#0a0a0a" stroke="#111" stroke-width="0.22">600000</text>
<line x1="239" y1="566.8" x2="241" y2="566.8" stroke="#666" stroke-width="0.7"/>
<text x="235.8" y="569.3" font-size="7.5" text-anchor="end" font-weight="normal" fill="#0a0a0a" stroke="#111" stroke-width="0.22">300000</text>
<line x1="239" y1="601.3" x2="241" y2="601.3" stroke="#666" stroke-width="0.7"/>
<text x="235.8" y="603.8" font-size="7.5" text-anchor="end" font-weight="normal" fill="#0a0a0a" stroke="#111" stroke-width="0.22">0</text>
<line x1="241" y1="601.3" x2="241" y2="603.3" stroke="#666" stroke-width="0.7"/>
<line x1="293.6" y1="601.3" x2="293.6" y2="603.3" stroke="#666" stroke-width="0.7"/>
<line x1="346.2" y1="601.3" x2="346.2" y2="603.3" stroke="#666" stroke-width="0.7"/>
<line x1="268" y1="579.8" x2="268" y2="593" stroke="#222" stroke-width="0.7"/>
<line x1="267" y1="579.8" x2="269" y2="579.8" stroke="#222" stroke-width="0.6"/>
<line x1="267" y1="593" x2="269" y2="593" stroke="#222" stroke-width="0.6"/>
<line x1="320.6" y1="512.3" x2="320.6" y2="564.2" stroke="#222" stroke-width="0.7"/>
<line x1="319.6" y1="512.3" x2="321.6" y2="512.3" stroke="#222" stroke-width="0.6"/>
<line x1="319.6" y1="564.2" x2="321.6" y2="564.2" stroke="#222" stroke-width="0.6"/>
<text x="267.6" y="614.5" font-size="7" text-anchor="middle" font-weight="normal" fill="#0a0a0a" stroke="#111" stroke-width="0.22">MSCV-GFP</text>
<text x="321.3" y="614.5" font-size="7" text-anchor="middle" font-weight="normal" fill="#0a0a0a" stroke="#111" stroke-width="0.22">MSCV-ICN/GFP</text>
<text x="282.2" y="481.2" font-size="8" text-anchor="middle" font-weight="bold" fill="#0a0a0a" stroke="#111" stroke-width="0.2">Sca1<tspan dy="-0.4em" font-size="62%">+</tspan><tspan dy="0.248em" font-size="100%">&#8203;</tspan>c-kit<tspan dy="-0.4em" font-size="62%">+</tspan><tspan dy="0.248em" font-size="100%">&#8203;</tspan></text>
<text x="195.2" y="547.7" font-size="7.5" text-anchor="middle" font-weight="bold" fill="#0a0a0a" transform="rotate(-90 195.2 547.7)" textLength="88" lengthAdjust="spacingAndGlyphs" stroke="#111" stroke-width="0.15">total cells in GFP<tspan dy="-0.4em" font-size="62%">+</tspan><tspan dy="0.248em" font-size="100%">&#8203;</tspan>Ly5.2<tspan dy="-0.4em" font-size="62%">+</tspan><tspan dy="0.248em" font-size="100%">&#8203;</tspan></text>
<text x="204.464" y="551" font-size="7.4" text-anchor="middle" font-weight="bold" fill="#0a0a0a" transform="rotate(-90 204.464 551)" textLength="43" lengthAdjust="spacingAndGlyphs" stroke="#111" stroke-width="0.15">bone marrow</text>
<rect x="404.8" y="497.4" width="113.8" height="104.9" fill="none" stroke="#9c9c9c" stroke-width="0.8"/>
<rect x="415" y="578" width="36.5" height="24.3" fill="#404040"/>
<rect x="473.2" y="532.4" width="35.4" height="69.9" fill="#404040"/>
<line x1="404.8" y1="497.4" x2="404.8" y2="602.3" stroke="#777" stroke-width="0.8"/>
<line x1="404.8" y1="602.3" x2="518.6" y2="602.3" stroke="#555" stroke-width="0.9"/>
<line x1="402.8" y1="497.8" x2="404.8" y2="497.8" stroke="#666" stroke-width="0.7"/>
<text x="399.5" y="500.3" font-size="6.5" text-anchor="end" font-weight="normal" fill="#0a0a0a" stroke="#111" stroke-width="0.22">300000</text>
<line x1="402.8" y1="532.6" x2="404.8" y2="532.6" stroke="#666" stroke-width="0.7"/>
<text x="399.5" y="535.1" font-size="6.5" text-anchor="end" font-weight="normal" fill="#0a0a0a" stroke="#111" stroke-width="0.22">200000</text>
<line x1="402.8" y1="567.5" x2="404.8" y2="567.5" stroke="#666" stroke-width="0.7"/>
<text x="399.5" y="570" font-size="6.5" text-anchor="end" font-weight="normal" fill="#0a0a0a" stroke="#111" stroke-width="0.22">100000</text>
<line x1="402.8" y1="602.3" x2="404.8" y2="602.3" stroke="#666" stroke-width="0.7"/>
<text x="399.5" y="604.8" font-size="6.5" text-anchor="end" font-weight="normal" fill="#0a0a0a" stroke="#111" stroke-width="0.22">0</text>
<line x1="404.8" y1="602.3" x2="404.8" y2="604.3" stroke="#666" stroke-width="0.7"/>
<line x1="461.7" y1="602.3" x2="461.7" y2="604.3" stroke="#666" stroke-width="0.7"/>
<line x1="518.6" y1="602.3" x2="518.6" y2="604.3" stroke="#666" stroke-width="0.7"/>
<line x1="433.5" y1="566.6" x2="433.5" y2="590.2" stroke="#222" stroke-width="0.7"/>
<line x1="432.5" y1="566.6" x2="434.5" y2="566.6" stroke="#222" stroke-width="0.6"/>
<line x1="432.5" y1="590.2" x2="434.5" y2="590.2" stroke="#222" stroke-width="0.6"/>
<line x1="490.8" y1="513" x2="490.8" y2="552.1" stroke="#222" stroke-width="0.7"/>
<line x1="489.8" y1="513" x2="491.8" y2="513" stroke="#222" stroke-width="0.6"/>
<line x1="489.8" y1="552.1" x2="491.8" y2="552.1" stroke="#222" stroke-width="0.6"/>
<text x="433.6" y="614.8" font-size="7" text-anchor="middle" font-weight="normal" fill="#0a0a0a" stroke="#111" stroke-width="0.22">MSCV-GFP</text>
<text x="490.5" y="614.8" font-size="7" text-anchor="middle" font-weight="normal" fill="#0a0a0a" stroke="#111" stroke-width="0.22">MSCV-ICN/GFP</text>
<text x="451.3" y="481.2" font-size="8" text-anchor="middle" font-weight="bold" fill="#0a0a0a" stroke="#111" stroke-width="0.2">c-kit<tspan dy="-0.4em" font-size="62%">+</tspan><tspan dy="0.248em" font-size="100%">&#8203;</tspan>Thy1<tspan dy="-0.4em" font-size="62%">low</tspan><tspan dy="0.248em" font-size="100%">&#8203;</tspan></text>
<text x="363.448" y="548.7" font-size="6.8" text-anchor="middle" font-weight="bold" fill="#0a0a0a" transform="rotate(-90 363.448 548.7)" textLength="80" lengthAdjust="spacingAndGlyphs" stroke="#111" stroke-width="0.15">total cells in GFP<tspan dy="-0.4em" font-size="62%">+</tspan><tspan dy="0.248em" font-size="100%">&#8203;</tspan>Ly5.2<tspan dy="-0.4em" font-size="62%">+</tspan><tspan dy="0.248em" font-size="100%">&#8203;</tspan></text>
<text x="372.248" y="550" font-size="6.8" text-anchor="middle" font-weight="bold" fill="#0a0a0a" transform="rotate(-90 372.248 550)" textLength="41" lengthAdjust="spacingAndGlyphs" stroke="#111" stroke-width="0.15">bone marrow</text>
<text x="489.1" y="512.06" font-size="15.5" text-anchor="middle" font-weight="bold" fill="#0a0a0a">*</text>
</g>
<g id="panelDE">
<text x="0" y="647" font-size="16.5" text-anchor="start" font-weight="bold" fill="#0a0a0a">D</text>
<text x="268.2" y="646.4" font-size="16.5" text-anchor="start" font-weight="bold" fill="#0a0a0a">E</text>
<rect x="74.5" y="637.3" width="172" height="138" fill="none" stroke="#9c9c9c" stroke-width="0.8"/>
<line x1="74.5" y1="637.3" x2="74.5" y2="775.3" stroke="#666" stroke-width="0.9"/>
<line x1="74.5" y1="775.3" x2="246.5" y2="775.3" stroke="#666" stroke-width="0.9"/>
<line x1="71.5" y1="775.3" x2="74.5" y2="775.3" stroke="#666" stroke-width="0.8"/>
<text x="67.2" y="778" font-size="9" text-anchor="end" font-weight="normal" fill="#0a0a0a" stroke="#111" stroke-width="0.25">0</text>
<line x1="71.5" y1="752.3" x2="74.5" y2="752.3" stroke="#666" stroke-width="0.8"/>
<text x="67.2" y="755" font-size="9" text-anchor="end" font-weight="normal" fill="#0a0a0a" stroke="#111" stroke-width="0.25">500000</text>
<line x1="71.5" y1="729.3" x2="74.5" y2="729.3" stroke="#666" stroke-width="0.8"/>
<text x="67.2" y="732" font-size="9" text-anchor="end" font-weight="normal" fill="#0a0a0a" stroke="#111" stroke-width="0.25">1000000</text>
<line x1="71.5" y1="706.3" x2="74.5" y2="706.3" stroke="#666" stroke-width="0.8"/>
<text x="67.2" y="709" font-size="9" text-anchor="end" font-weight="normal" fill="#0a0a0a" stroke="#111" stroke-width="0.25">1500000</text>
<line x1="71.5" y1="683.3" x2="74.5" y2="683.3" stroke="#666" stroke-width="0.8"/>
<text x="67.2" y="686" font-size="9" text-anchor="end" font-weight="normal" fill="#0a0a0a" stroke="#111" stroke-width="0.25">2000000</text>
<line x1="71.5" y1="660.3" x2="74.5" y2="660.3" stroke="#666" stroke-width="0.8"/>
<text x="67.2" y="663" font-size="9" text-anchor="end" font-weight="normal" fill="#0a0a0a" stroke="#111" stroke-width="0.25">2500000</text>
<line x1="71.5" y1="637.3" x2="74.5" y2="637.3" stroke="#666" stroke-width="0.8"/>
<text x="67.2" y="640" font-size="9" text-anchor="end" font-weight="normal" fill="#0a0a0a" stroke="#111" stroke-width="0.25">3000000</text>
<line x1="74" y1="775.3" x2="74" y2="778.3" stroke="#666" stroke-width="0.8"/>
<text x="73.8" y="792.3" font-size="9" text-anchor="middle" font-weight="normal" fill="#0a0a0a" stroke="#111" stroke-width="0.25">0</text>
<line x1="108.3" y1="775.3" x2="108.3" y2="778.3" stroke="#666" stroke-width="0.8"/>
<text x="108.1" y="792.3" font-size="9" text-anchor="middle" font-weight="normal" fill="#0a0a0a" stroke="#111" stroke-width="0.25">2</text>
<line x1="142.6" y1="775.3" x2="142.6" y2="778.3" stroke="#666" stroke-width="0.8"/>
<text x="142.4" y="792.3" font-size="9" text-anchor="middle" font-weight="normal" fill="#0a0a0a" stroke="#111" stroke-width="0.25">4</text>
<line x1="176.9" y1="775.3" x2="176.9" y2="778.3" stroke="#666" stroke-width="0.8"/>
<text x="176.7" y="792.3" font-size="9" text-anchor="middle" font-weight="normal" fill="#0a0a0a" stroke="#111" stroke-width="0.25">6</text>
<line x1="211.2" y1="775.3" x2="211.2" y2="778.3" stroke="#666" stroke-width="0.8"/>
<text x="211" y="792.3" font-size="9" text-anchor="middle" font-weight="normal" fill="#0a0a0a" stroke="#111" stroke-width="0.25">8</text>
<line x1="245.5" y1="775.3" x2="245.5" y2="778.3" stroke="#666" stroke-width="0.8"/>
<text x="245.3" y="792.3" font-size="9" text-anchor="middle" font-weight="normal" fill="#0a0a0a" stroke="#111" stroke-width="0.25">10</text>
<text x="160" y="804.7" font-size="9" text-anchor="middle" font-weight="bold" fill="#0a0a0a" letter-spacing="0.45" stroke="#111" stroke-width="0.2">months</text>
<text x="23.6" y="706" font-size="9" text-anchor="middle" font-weight="bold" fill="#0a0a0a" transform="rotate(-90 23.6 706)" letter-spacing="0.25" stroke="#111" stroke-width="0.2">total Sca1<tspan dy="-0.4em" font-size="62%">+</tspan><tspan dy="0.248em" font-size="100%">&#8203;</tspan>lin<tspan dy="-0.4em" font-size="62%">-</tspan><tspan dy="0.248em" font-size="100%">&#8203;</tspan> in GFP<tspan dy="-0.4em" font-size="62%">+</tspan><tspan dy="0.248em" font-size="100%">&#8203;</tspan>Ly5.2<tspan dy="-0.4em" font-size="62%">+</tspan><tspan dy="0.248em" font-size="100%">&#8203;</tspan>BM</text>
<polyline points="99.725,772.6 159.75,774.8 211.2,771.9" fill="none" stroke="#000" stroke-width="1.2"/>
<polyline points="99.725,772 159.75,768.9 211.2,651" fill="none" stroke="#000" stroke-width="1.2"/>
<rect x="97.575" y="770.45" width="4.3" height="4.3" fill="#000"/>
<rect x="157.6" y="772.65" width="4.3" height="4.3" fill="#000"/>
<rect x="209.05" y="769.75" width="4.3" height="4.3" fill="#000"/>
<circle cx="99.725" cy="772" r="2.6" fill="#000"/>
<circle cx="159.75" cy="768.9" r="2.6" fill="#000"/>
<circle cx="211.2" cy="651" r="2.6" fill="#000"/>
<line x1="85" y1="649" x2="96" y2="649" stroke="#000" stroke-width="1.1"/>
<rect x="88.3" y="646.8" width="4.4" height="4.4" fill="#000"/>
<text x="98.8" y="652.3" font-size="9.55" text-anchor="start" font-weight="normal" fill="#0a0a0a" stroke="#111" stroke-width="0.25">MSCV-GFP</text>
<line x1="85" y1="661" x2="96" y2="661" stroke="#000" stroke-width="1.1"/>
<circle cx="90.5" cy="661" r="2.6" fill="#000"/>
<text x="98.8" y="664.3" font-size="9.55" text-anchor="start" font-weight="normal" fill="#0a0a0a" stroke="#111" stroke-width="0.25">MSCV-GFP/ICN</text>
<rect x="343" y="656.6" width="175" height="163.8" fill="none" stroke="#9c9c9c" stroke-width="0.8"/>
<line x1="343" y1="656.6" x2="343" y2="820.4" stroke="#666" stroke-width="0.9"/>
<line x1="343" y1="820.4" x2="518" y2="820.4" stroke="#666" stroke-width="0.9"/>
<line x1="340" y1="820.4" x2="343" y2="820.4" stroke="#666" stroke-width="0.8"/>
<text x="335.6" y="823.5" font-size="8.6" text-anchor="end" font-weight="normal" fill="#0a0a0a" stroke="#111" stroke-width="0.25">0</text>
<line x1="340" y1="793.1" x2="343" y2="793.1" stroke="#666" stroke-width="0.8"/>
<text x="335.6" y="796.2" font-size="8.6" text-anchor="end" font-weight="normal" fill="#0a0a0a" stroke="#111" stroke-width="0.25">200000</text>
<line x1="340" y1="765.8" x2="343" y2="765.8" stroke="#666" stroke-width="0.8"/>
<text x="335.6" y="768.9" font-size="8.6" text-anchor="end" font-weight="normal" fill="#0a0a0a" stroke="#111" stroke-width="0.25">400000</text>
<line x1="340" y1="738.5" x2="343" y2="738.5" stroke="#666" stroke-width="0.8"/>
<text x="335.6" y="741.6" font-size="8.6" text-anchor="end" font-weight="normal" fill="#0a0a0a" stroke="#111" stroke-width="0.25">600000</text>
<line x1="340" y1="711.2" x2="343" y2="711.2" stroke="#666" stroke-width="0.8"/>
<text x="335.6" y="714.3" font-size="8.6" text-anchor="end" font-weight="normal" fill="#0a0a0a" stroke="#111" stroke-width="0.25">800000</text>
<line x1="340" y1="683.9" x2="343" y2="683.9" stroke="#666" stroke-width="0.8"/>
<text x="335.6" y="687" font-size="8.6" text-anchor="end" font-weight="normal" fill="#0a0a0a" stroke="#111" stroke-width="0.25">1000000</text>
<line x1="340" y1="656.6" x2="343" y2="656.6" stroke="#666" stroke-width="0.8"/>
<text x="335.6" y="659.7" font-size="8.6" text-anchor="end" font-weight="normal" fill="#0a0a0a" stroke="#111" stroke-width="0.25">1200000</text>
<line x1="343" y1="820.4" x2="343" y2="822.9" stroke="#666" stroke-width="0.8"/>
<line x1="429.3" y1="820.4" x2="429.3" y2="822.9" stroke="#666" stroke-width="0.8"/>
<line x1="518" y1="820.4" x2="518" y2="822.9" stroke="#666" stroke-width="0.8"/>
<text x="387.6" y="839" font-size="10" text-anchor="middle" font-weight="normal" fill="#0a0a0a" stroke="#111" stroke-width="0.25">1st transplant</text>
<text x="475" y="839" font-size="10" text-anchor="middle" font-weight="normal" fill="#0a0a0a" stroke="#111" stroke-width="0.25">2nd transplant</text>
<text x="292.3" y="733.7" font-size="9" text-anchor="middle" font-weight="bold" fill="#0a0a0a" transform="rotate(-90 292.3 733.7)" textLength="198" lengthAdjust="spacingAndGlyphs" stroke="#111" stroke-width="0.2">total Sca1<tspan dy="-0.4em" font-size="62%">+</tspan><tspan dy="0.248em" font-size="100%">&#8203;</tspan>lin<tspan dy="-0.4em" font-size="62%">-</tspan><tspan dy="0.248em" font-size="100%">&#8203;</tspan>GFP<tspan dy="-0.4em" font-size="62%">+</tspan><tspan dy="0.248em" font-size="100%">&#8203;</tspan>Ly5.2<tspan dy="-0.4em" font-size="62%">+</tspan><tspan dy="0.248em" font-size="100%">&#8203;</tspan> cells in bone marrow</text>
<line x1="474.2" y1="665.2" x2="474.2" y2="745.2" stroke="#333" stroke-width="0.7"/>
<line x1="473" y1="665.2" x2="475.4" y2="665.2" stroke="#333" stroke-width="0.7"/>
<line x1="473" y1="745.2" x2="475.4" y2="745.2" stroke="#333" stroke-width="0.7"/>
<line x1="387.5" y1="805.6" x2="387.5" y2="814.6" stroke="#333" stroke-width="0.7"/>
<line x1="386.3" y1="805.6" x2="388.7" y2="805.6" stroke="#333" stroke-width="0.7"/>
<line x1="386.3" y1="814.6" x2="388.7" y2="814.6" stroke="#333" stroke-width="0.7"/>
<polyline points="387.5,809.8 474.2,819.8" fill="none" stroke="#000" stroke-width="1.2"/>
<polyline points="387.5,809.8 474.2,704.8" fill="none" stroke="#000" stroke-width="1.2"/>
<rect x="385.2" y="807.5" width="4.6" height="4.6" fill="#000"/>
<rect x="471.9" y="817.3" width="4.6" height="4.6" fill="#000"/>
<circle cx="387.5" cy="809.8" r="2.9" fill="#000"/>
<circle cx="474.2" cy="704.8" r="2.8" fill="#000"/>
<line x1="350" y1="667.7" x2="361.5" y2="667.7" stroke="#000" stroke-width="1"/>
<rect x="353.3" y="665.3" width="4.8" height="4.8" fill="#000"/>
<text x="364.5" y="671.3" font-size="10.2" text-anchor="start" font-weight="normal" fill="#0a0a0a" stroke="#111" stroke-width="0.25">MSCV-GFP</text>
<line x1="350" y1="681.4" x2="361.5" y2="681.4" stroke="#000" stroke-width="1"/>
<circle cx="355.7" cy="681.4" r="2.8" fill="#000"/>
<text x="364.5" y="685" font-size="10.2" text-anchor="start" font-weight="normal" fill="#0a0a0a" stroke="#111" stroke-width="0.25">MSCV-ICN/GFP</text>
</g>
</svg>
</body></html>
